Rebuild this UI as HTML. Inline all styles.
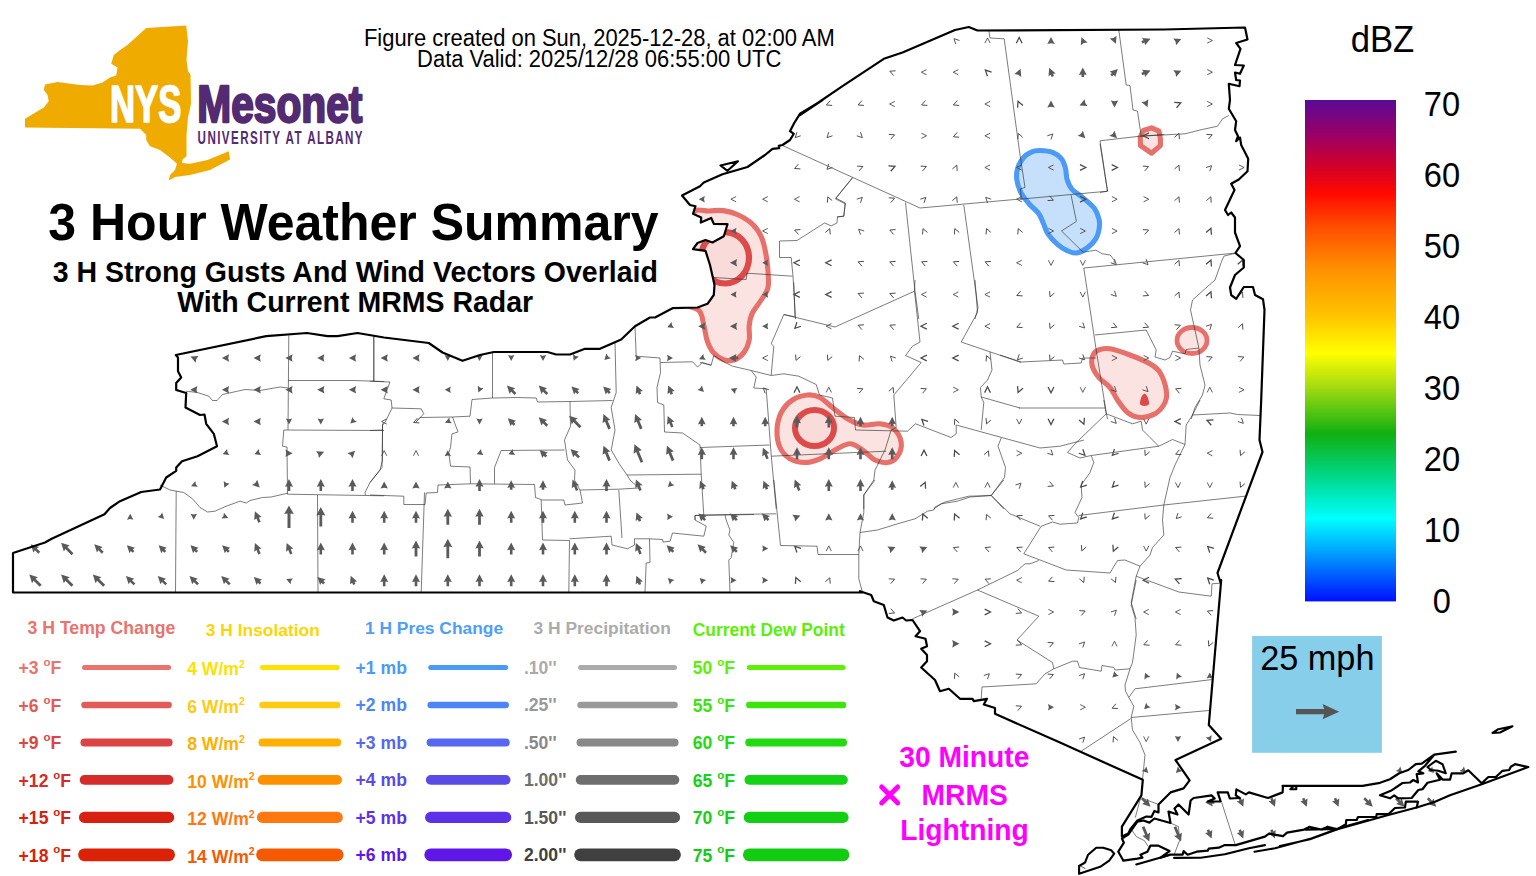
<!DOCTYPE html><html><head><meta charset="utf-8"><title>NYS Mesonet 3 Hour Weather Summary</title>
<style>html,body{margin:0;padding:0;background:#fff;overflow:hidden}svg{display:block}text{font-family:"Liberation Sans",sans-serif}</style></head><body>
<svg width="1536" height="876" viewBox="0 0 1536 876">
<rect width="1536" height="876" fill="#fff"/>
<defs>
<clipPath id="st"><path d="M175.8,355.0 L266.2,336.2 L307.0,333.0 L327.5,336.2 L337.5,336.2 L357.5,333.0 L384.0,337.5 L428.8,343.0 L442.5,352.5 L462.5,360.8 L480.0,355.0 L493.8,352.0 L547.5,352.0 L556.2,354.5 L570.0,354.5 L585.0,348.8 L600.0,348.8 L621.2,339.5 L635.0,326.2 L650.0,317.5 L655.0,317.5 L655.0,317.5 L672.5,308.2 L697.5,307.5 L707.5,303.8 L713.8,295.0 L714.5,285.0 L710.0,265.0 L705.5,250.8 L693.0,249.2 L697.5,243.0 L705.5,240.0 L712.5,242.5 L723.8,236.2 L727.5,224.2 L713.8,223.8 L711.2,218.0 L700.8,222.5 L701.2,217.5 L693.0,213.8 L695.5,206.2 L690.0,205.0 L682.0,195.5 L700.0,186.2 L703.8,182.5 L722.5,174.2 L747.5,167.0 L765.0,155.0 L772.5,148.8 L779.2,148.2 L778.8,145.8 L782.5,145.0 L790.0,140.0 L793.8,133.8 L790.0,131.2 L794.5,122.5 L800.0,113.8 L812.5,106.2 L822.5,100.0 L800.0,115.0 L842.5,86.2 L883.8,58.8 L902.5,52.5 L955.0,30.0 L968.8,27.0 L977.5,30.5 L1164.0,29.5 L1245.0,27.5 L1247.5,39.5 L1236.2,43.0 L1240.5,48.8 L1235.0,65.0 L1243.8,65.5 L1240.0,73.8 L1235.0,72.5 L1236.2,80.0 L1240.0,80.5 L1239.5,86.2 L1228.8,83.8 L1230.0,100.0 L1228.8,108.8 L1236.2,121.2 L1235.0,130.0 L1238.0,136.2 L1236.2,141.2 L1240.0,137.5 L1241.2,145.0 L1248.2,158.8 L1247.5,171.2 L1238.8,179.5 L1231.2,183.8 L1234.5,190.0 L1225.0,210.0 L1228.0,215.0 L1231.2,212.5 L1235.0,217.5 L1235.0,232.5 L1240.0,246.2 L1235.5,253.0 L1243.8,260.0 L1243.8,267.5 L1235.0,275.0 L1230.0,287.5 L1231.2,295.0 L1236.2,298.8 L1243.8,287.0 L1253.0,287.0 L1255.0,295.0 L1263.0,299.2 L1264.5,310.0 L1261.2,400.0 L1259.5,440.0 L1262.5,452.0 L1217.5,573.0 L1220.5,582.5 L1221.2,580.0 L1208.8,725.0 L1221.2,738.8 L1175.5,760.0 L1189.6,780.4 L1183.6,788.4 L1170.5,792.4 L1158.5,804.5 L1158.5,812.5 L1154.4,810.9 L1151.4,816.9 L1146.4,816.5 L1137.4,820.5 L1130.7,828.6 L1128.3,833.6 L1121.9,836.6 L1121.9,826.6 L1141.4,795.4 L1142.8,779.8 L1060.0,742.6 L995.0,713.8 L995.0,708.0 L983.8,704.5 L987.0,698.8 L973.8,701.2 L972.5,698.8 L960.0,698.8 L948.8,688.8 L940.0,691.2 L935.0,680.0 L921.2,667.5 L927.0,661.2 L927.0,655.0 L921.2,648.8 L927.0,646.2 L925.5,638.8 L915.5,636.2 L920.0,631.2 L912.5,620.0 L906.2,620.5 L902.5,617.5 L893.8,620.5 L887.5,617.5 L883.8,605.0 L873.8,601.2 L871.2,595.0 L860.0,591.2 L862.5,592.5 L13.0,592.5 L13.0,553.0 L45.0,542.5 L51.2,539.0 L104.5,514.2 L110.0,508.0 L120.0,501.2 L141.2,492.0 L160.0,489.5 L166.2,477.5 L176.2,470.8 L176.2,467.5 L182.0,461.2 L197.5,456.2 L217.0,446.2 L213.8,433.8 L206.2,423.8 L204.5,414.5 L200.0,415.0 L185.5,407.5 L186.2,393.0 L176.2,390.0 L176.2,383.0 L181.2,377.5 L178.0,371.2 L178.0,357.5 L175.8,355.0Z M1121.9,838.6 L1128.3,834.6 L1137.4,821.6 L1143.4,820.5 L1149.4,822.6 L1154.4,818.5 L1170.5,823.0 L1168.5,811.5 L1177.5,814.5 L1174.5,808.5 L1178.5,804.5 L1188.6,814.5 L1190.6,800.5 L1193.6,798.0 L1211.7,795.4 L1214.7,798.5 L1207.7,801.5 L1220.7,801.5 L1217.7,792.4 L1227.8,792.4 L1229.8,798.5 L1239.8,798.0 L1235.8,795.4 L1236.4,789.4 L1245.8,794.4 L1248.9,792.4 L1268.0,798.0 L1282.6,792.4 L1283.0,786.0 L1282.5,785.8 L1362.5,785.8 L1380.0,782.8 L1390.0,779.2 L1399.2,773.3 L1408.3,770.0 L1415.8,764.2 L1421.7,763.7 L1434.2,754.7 L1455.8,751.7 L1434.2,754.7 L1425.0,765.8 L1418.3,771.3 L1423.3,773.3 L1416.7,774.2 L1418.0,782.5 L1413.3,780.0 L1410.0,782.5 L1402.5,783.0 L1390.8,790.8 L1380.0,795.3 L1390.0,798.3 L1394.2,795.3 L1398.3,798.3 L1411.7,798.0 L1418.3,790.0 L1422.5,789.2 L1427.5,782.8 L1440.0,779.7 L1436.7,773.3 L1440.8,777.5 L1442.5,779.7 L1450.0,779.7 L1451.7,773.3 L1463.3,773.3 L1468.3,770.3 L1481.7,783.3 L1488.3,777.0 L1495.8,777.0 L1502.5,770.8 L1509.2,770.0 L1510.8,766.7 L1515.0,764.2 L1528.3,767.0 L1481.7,784.2 L1450.0,795.3 L1435.0,801.7 L1416.7,807.5 L1418.0,801.7 L1405.8,801.7 L1405.0,807.5 L1395.0,808.0 L1388.3,814.2 L1376.7,814.2 L1376.3,817.0 L1358.0,817.0 L1356.7,820.0 L1346.3,820.0 L1345.8,824.2 L1337.5,829.2 L1327.5,826.7 L1322.5,829.7 L1309.2,826.7 L1305.8,829.7 L1337.3,829.0 L1327.2,827.0 L1321.2,829.6 L1309.2,827.0 L1304.1,829.6 L1287.0,832.6 L1283.0,836.2 L1269.0,833.6 L1264.9,836.6 L1235.8,845.1 L1224.8,845.1 L1218.7,847.7 L1208.7,848.7 L1207.7,850.7 L1196.6,851.7 L1187.6,854.7 L1183.6,851.1 L1182.6,854.7 L1169.5,854.7 L1160.5,857.7 L1169.5,851.1 L1158.5,845.7 L1150.4,845.7 L1147.4,851.7 L1140.4,854.7 L1142.4,857.7 L1137.4,858.7 L1123.3,860.7 L1122.3,858.7 L1118.3,851.7 L1123.9,842.7 L1121.9,838.6Z"/></clipPath>
<linearGradient id="cb" x1="0" y1="0" x2="0" y2="1"><stop offset="0" stop-color="#5a0a96"/><stop offset="0.07" stop-color="#9a0066"/><stop offset="0.13" stop-color="#d0002c"/><stop offset="0.185" stop-color="#ff0800"/><stop offset="0.25" stop-color="#ff4a00"/><stop offset="0.33" stop-color="#ff8c00"/><stop offset="0.43" stop-color="#ffc400"/><stop offset="0.505" stop-color="#ffff00"/><stop offset="0.57" stop-color="#a8dc10"/><stop offset="0.665" stop-color="#10b010"/><stop offset="0.75" stop-color="#00d888"/><stop offset="0.835" stop-color="#00ffff"/><stop offset="0.9" stop-color="#00a4ff"/><stop offset="1" stop-color="#0010ff"/></linearGradient>
</defs>
<g clip-path="url(#st)" fill-rule="nonzero">
<path d="M690.0,214.7 C696.5,206.5 703.5,211.7 709.1,211.0 C714.7,210.3 718.7,210.0 723.5,210.6 C728.3,211.2 733.0,212.5 737.8,214.7 C742.6,216.9 748.2,220.1 752.2,223.9 C756.2,227.7 759.2,232.0 761.5,237.3 C763.8,242.6 765.1,249.3 766.2,255.8 C767.3,262.3 768.0,270.8 768.3,276.3 C768.5,281.8 769.0,284.6 767.7,288.7 C766.4,292.8 763.1,296.9 760.5,301.0 C757.9,305.1 754.1,309.3 752.2,313.4 C750.3,317.5 749.7,321.2 749.2,325.7 C748.7,330.1 750.1,335.7 749.2,340.1 C748.3,344.6 746.6,349.0 744.0,352.4 C741.4,355.8 737.1,359.0 733.7,360.2 C730.3,361.4 726.9,360.9 723.5,359.6 C720.1,358.3 716.0,355.6 713.2,352.4 C710.5,349.1 708.5,344.6 707.0,340.1 C705.5,335.7 705.3,330.7 703.9,325.7 C702.5,320.7 702.8,314.6 698.8,310.3 C694.8,306.0 684.8,308.4 680.0,300.0 C675.2,291.6 668.3,274.2 670.0,260.0 C671.7,245.8 683.5,222.9 690.0,214.7Z" fill="#fbe3e1" stroke="#e8706a" stroke-width="5.1"/>
<ellipse cx="725" cy="257.8" rx="24" ry="25.7" fill="#f9dbd9" stroke="#dd4a4a" stroke-width="6.2"/>
<path d="M807.5,395.0 C812.1,394.6 815.8,395.4 820.0,397.5 C824.2,399.6 827.9,404.0 832.5,407.5 C837.1,411.0 842.5,415.8 847.5,418.8 C852.5,421.7 857.1,424.2 862.5,425.0 C867.9,425.8 874.8,423.1 880.0,423.8 C885.2,424.4 890.2,425.6 893.8,428.8 C897.3,431.9 900.6,437.9 901.2,442.5 C901.9,447.1 899.8,452.9 897.5,456.2 C895.2,459.6 891.2,461.9 887.5,462.5 C883.8,463.1 879.2,462.1 875.0,460.0 C870.8,457.9 866.7,452.7 862.5,450.0 C858.3,447.3 854.6,443.8 850.0,443.8 C845.4,443.8 840.0,447.5 835.0,450.0 C830.0,452.5 825.0,456.7 820.0,458.8 C815.0,460.8 810.0,462.5 805.0,462.5 C800.0,462.5 794.2,461.2 790.0,458.8 C785.8,456.2 782.2,452.3 780.0,447.5 C777.8,442.7 776.8,435.8 777.0,430.0 C777.2,424.2 778.7,417.5 781.2,412.5 C783.8,407.5 788.1,402.9 792.5,400.0 C796.9,397.1 802.9,395.4 807.5,395.0Z" fill="#fbe3e1" stroke="#e8706a" stroke-width="5.1"/>
<ellipse cx="814.5" cy="428" rx="19.5" ry="18" fill="#f9dbd9" stroke="#dd4a4a" stroke-width="6.0"/>
<path d="M1110.0,348.8 C1115.0,349.7 1123.3,352.5 1130.0,355.0 C1136.7,357.5 1145.0,360.8 1150.0,363.8 C1155.0,366.7 1157.3,368.1 1160.0,372.5 C1162.7,376.9 1165.4,385.0 1166.2,390.0 C1167.1,395.0 1166.9,398.5 1165.0,402.5 C1163.1,406.5 1159.2,411.2 1155.0,413.8 C1150.8,416.2 1144.6,417.7 1140.0,417.5 C1135.4,417.3 1131.2,415.4 1127.5,412.5 C1123.8,409.6 1120.4,404.2 1117.5,400.0 C1114.6,395.8 1113.1,391.2 1110.0,387.5 C1106.9,383.8 1101.8,381.2 1098.8,377.5 C1095.8,373.8 1092.8,369.0 1092.0,365.0 C1091.2,361.0 1092.4,356.3 1093.8,353.8 C1095.1,351.2 1097.3,350.3 1100.0,349.5 C1102.7,348.7 1105.0,347.8 1110.0,348.8Z" fill="#fbe3e1" stroke="#e8706a" stroke-width="5.1"/>
<path d="M1144.5,393.5 C1147,394 1149.5,401 1149,404 C1148,406.5 1141,406.5 1140,404 C1139.5,401 1142,394 1144.5,393.5Z" fill="#dd4a4a"/>
<ellipse cx="1192" cy="340.5" rx="15" ry="13" fill="#fbe3e1" stroke="#e8706a" stroke-width="4.8"/>
<path d="M1151.5,127.9 L1159,131.2 L1160.4,138.8 L1160.4,145.6 L1151.5,153.2 L1140.5,145.6 L1140.2,137.4 L1143.3,130.5Z" fill="#fbe3e1" stroke="#e8706a" stroke-width="5.1" stroke-linejoin="round"/>
<path d="M1039.9,150.5 C1043.5,150.6 1049.1,151.0 1052.7,152.4 C1056.3,153.8 1059.4,156.1 1061.5,158.8 C1063.6,161.5 1064.6,165.0 1065.5,168.4 C1066.4,171.8 1066.0,176.1 1067.1,179.5 C1068.2,182.9 1069.2,186.0 1071.9,189.1 C1074.6,192.2 1079.4,194.7 1083.1,197.9 C1086.8,201.1 1091.6,204.7 1094.3,208.3 C1097.0,211.9 1098.3,216.0 1099.1,219.5 C1099.9,223.0 1099.6,225.9 1099.1,229.1 C1098.6,232.3 1097.8,235.6 1095.9,238.7 C1094.0,241.8 1091.1,245.0 1087.9,247.4 C1084.7,249.8 1080.2,252.5 1076.7,253.0 C1073.2,253.5 1070.3,252.0 1067.1,250.6 C1063.9,249.2 1060.7,247.1 1057.5,244.3 C1054.3,241.5 1050.3,237.5 1047.9,233.9 C1045.5,230.3 1044.7,226.2 1043.1,222.7 C1041.5,219.2 1040.8,216.3 1038.4,213.1 C1036.0,209.9 1031.7,207.0 1028.8,203.5 C1025.9,200.0 1022.8,196.3 1020.8,192.3 C1018.8,188.3 1017.3,183.5 1016.8,179.5 C1016.3,175.5 1016.5,172.0 1017.6,168.4 C1018.7,164.8 1020.9,160.7 1023.2,158.0 C1025.5,155.3 1028.4,153.3 1031.2,152.1 C1034.0,150.8 1036.3,150.4 1039.9,150.5Z" fill="#c6dffb" stroke="#4b9bf6" stroke-width="5.1"/>
</g>
<g fill="none" stroke="#2a2a2a" stroke-width="0.62" stroke-linejoin="round">
<path d="M782.5,145.5 L920.0,208.0 L1022.5,198.8 M852.5,178.0 L835.8,198.2 L845.5,203.0 L843.8,216.2 L837.5,216.8 L837.0,223.0 L831.2,225.8 L824.5,223.0 L797.0,240.5 L779.5,241.0 L779.5,257.5 L791.2,257.5 L793.0,276.2 L795.5,319.0 M713.8,277.5 L746.2,279.5 L747.0,273.2 L792.5,276.2 M905.5,202.5 L915.0,291.2 L918.8,319.0 M963.8,205.0 L978.0,307.5 L975.0,319.0 M783.8,314.5 L795.5,317.0 M1020.0,199.2 L1107.5,191.2 L1100.0,140.8 L1140.0,136.2 L1164.0,134.5 M988.8,30.5 L990.0,38.0 L1004.2,38.8 L1020.0,155.0 L1025.0,187.5 L1020.5,188.8 L1021.2,199.2 M1118.8,30.0 L1126.2,85.0 L1130.0,85.5 L1133.0,110.0 L1137.5,111.2 L1141.2,136.2 M852.5,177.5 L835.5,198.8 L845.0,203.8 L843.8,216.2 L837.0,217.0 M1140.5,136.2 L1185.0,133.8 L1200.0,130.0 L1217.5,126.2 L1222.5,118.8 L1228.8,115.5 M1100.0,143.8 L1107.5,191.2 L1100.0,192.5 M1071.1,195.2 L1076.4,221.4 L1061.5,231.0 L1083.1,252.2 L1095.9,250.2 L1102.3,253.8 L1110.3,255.0 L1114.2,260.2 L1114.2,263.4 M1083.8,268.0 L1236.2,253.0 M1083.8,268.0 L1096.2,350.0 L1106.2,412.5 L1107.5,419.0 M1095.0,335.0 L1146.2,330.0 L1156.2,350.0 L1155.0,357.0 L1165.0,360.0 L1170.0,357.5 L1172.5,351.2 L1185.0,353.8 L1186.2,349.5 L1198.8,348.0 M1236.2,253.0 L1223.8,256.2 L1221.2,262.5 L1215.0,280.0 L1205.0,288.8 L1192.5,300.0 L1190.5,310.0 L1198.8,347.5 L1200.0,365.0 L1205.0,385.0 L1202.5,395.0 L1195.0,407.5 L1191.2,419.0 M1000.0,355.0 L1021.2,362.0 L1062.5,360.0 L1063.8,364.0 L1081.2,363.0 L1082.5,358.0 L1096.2,358.0 M1018.8,408.0 L1105.0,408.0 M1103.8,400.0 L1106.2,413.8 L1132.5,423.8 L1141.2,421.2 L1142.5,430.0 L1150.0,437.5 L1158.8,446.2 L1172.5,439.5 L1185.0,444.5 L1186.2,425.0 L1192.5,415.0 L1200.0,400.0 M1192.5,415.0 L1230.0,413.0 L1237.5,414.5 L1260.0,415.5 M1106.2,413.8 L1075.0,443.8 L1067.5,452.5 L1080.0,458.0 L1091.2,455.5 L1158.8,446.2 M1091.2,455.5 L1093.8,462.5 L1090.0,472.5 L1081.2,485.0 L1082.0,497.5 L1075.0,512.5 L1078.8,517.5 L1077.5,523.0 L1060.0,524.2 L1052.5,522.0 L1041.2,526.2 M1185.0,444.5 L1175.0,465.0 L1170.0,477.5 L1163.8,505.0 L1162.5,520.0 L1163.8,535.0 L1152.5,547.5 L1150.0,555.0 L1140.0,566.2 L1136.2,576.2 L1131.2,602.5 L1136.2,619.0 M1078.8,515.5 L1163.8,505.0 L1245.0,496.2 M1041.2,526.2 L1023.8,553.8 L1066.2,570.0 L1110.0,573.0 L1117.5,560.5 L1125.0,560.0 L1140.0,566.2 M1136.2,576.2 L1178.8,592.0 L1211.2,596.2 L1212.0,583.8 L1220.5,583.2 M981.2,698.8 L982.0,687.0 L1036.2,683.8 L1045.0,673.8 L1053.8,668.8 L1072.5,661.2 L1077.5,661.2 L1079.5,667.5 L1101.2,671.2 L1102.0,665.5 L1113.8,667.5 L1115.0,670.0 L1130.0,668.8 M1136.2,580.0 L1131.2,605.0 L1135.0,617.5 L1136.2,635.0 L1132.5,662.5 L1130.0,668.8 L1125.0,685.0 L1125.5,691.2 L1128.8,697.5 L1133.8,706.2 L1131.2,717.5 L1132.5,730.0 L1140.0,742.5 L1145.0,755.0 L1142.5,779.5 M1128.8,697.5 L1135.0,688.8 L1212.5,679.5 M1131.2,717.5 L1208.8,710.5 M1130.5,718.8 L1081.2,751.2 M1140.4,797.5 L1158.5,804.5 M1140.4,798.5 L1135.3,817.5 M1132.3,830.6 L1136.3,836.6 L1144.4,840.6 L1148.4,846.7 M1170.5,823.0 L1178.5,826.6 L1179.5,840.6 L1174.5,853.7 M1221.7,802.5 L1235.2,844.7 M288.8,335.5 L288.0,430.0 M373.8,336.2 L373.8,381.2 M288.0,380.5 L353.8,380.5 L384.0,381.5 M186.2,391.2 L197.5,392.5 L208.8,396.2 L212.5,400.5 L217.0,400.5 L222.5,394.5 L237.5,391.2 L245.0,389.5 L260.0,390.5 L280.0,387.0 L288.0,388.0 M384.0,430.5 L283.8,430.0 L282.5,446.2 L287.0,447.0 L287.5,494.2 L384.0,495.8 M160.0,485.0 L170.0,490.0 L183.8,492.5 L192.5,498.8 L200.0,507.5 L207.5,512.0 L215.0,511.2 L226.2,506.2 L240.0,501.2 L246.2,503.0 L250.0,500.5 L262.5,497.5 L271.2,497.0 L287.5,493.2 M176.2,491.2 L175.5,592.5 M317.5,495.0 L318.0,592.5 M384.0,423.8 L382.5,425.0 L382.5,460.0 L380.0,470.0 L370.0,482.5 L365.0,492.5 L365.5,495.0 M373.8,336.2 L373.8,381.2 M370.0,381.2 L390.0,382.0 L383.8,398.8 L391.2,400.0 L392.0,408.0 L385.0,422.5 L382.5,423.8 L382.5,430.0 L370.0,430.5 M382.5,430.0 L382.0,467.5 L370.0,482.5 M392.0,408.0 L421.2,408.8 L423.8,413.8 L416.2,421.8 L420.0,417.5 L452.5,417.0 L470.0,416.2 L472.0,399.5 L492.5,398.0 M492.5,352.0 L492.5,398.0 L517.5,397.5 L536.2,398.0 L537.5,402.0 L570.0,401.5 L612.5,400.5 M452.5,417.0 L458.0,432.0 L452.0,433.8 L450.5,447.5 L448.8,452.5 L450.5,466.2 L470.0,467.0 L470.5,483.8 M570.0,401.5 L570.5,426.2 L564.5,440.0 L567.5,460.0 L575.0,470.0 L574.5,480.0 L580.0,490.0 L582.5,503.0 L565.0,505.0 L563.8,500.0 L542.5,500.0 L535.5,497.5 L534.5,484.5 L470.5,483.8 L438.0,485.0 L437.5,492.5 L426.2,493.0 L425.0,504.5 L403.8,504.5 L403.8,496.2 L370.0,495.0 M494.5,483.8 L494.5,467.5 L501.2,450.5 L564.5,450.0 M580.0,490.0 L618.8,489.2 L638.8,488.0 M615.0,342.5 L616.2,392.5 L611.2,407.5 L615.0,430.0 L611.2,450.0 L620.0,465.0 L627.0,475.0 L630.0,480.0 L638.8,488.0 M627.0,475.0 L701.2,474.2 M635.0,326.2 L636.2,356.2 L660.0,358.0 L660.5,372.5 L657.0,387.5 L657.5,402.5 L663.8,405.0 L664.5,432.0 L682.5,433.0 L700.0,445.0 L701.2,474.2 L703.8,515.0 L695.0,515.5 L695.0,520.0 M660.5,362.5 L692.5,361.8 L697.5,367.0 L702.5,362.5 L711.2,365.5 M424.5,492.5 L421.2,592.0 M541.2,500.0 L542.5,540.0 L569.5,540.5 L568.8,592.0 M569.5,538.8 L611.2,536.2 L612.0,545.0 L627.5,548.8 L634.5,545.0 L634.5,538.8 L649.5,538.8 L650.0,562.5 L646.2,563.0 L645.0,592.0 M618.8,490.0 L622.0,538.0 M649.5,538.8 L662.5,539.5 L663.0,542.0 L670.0,541.2 L672.5,533.0 L703.8,536.2 L706.2,526.2 L695.0,520.0 L695.0,515.5 L754.0,514.5 M793.8,282.5 L795.0,316.2 M783.8,314.5 L835.0,327.0 L914.5,291.2 L915.0,280.0 M914.5,291.2 L920.0,342.0 L912.5,346.2 L905.5,355.5 L921.2,362.5 L893.8,395.0 L896.2,427.5 L891.2,430.0 L885.0,450.0 L875.0,470.0 L873.8,480.0 L863.8,495.0 L863.8,509.0 M783.8,314.5 L771.2,343.8 L773.8,346.2 L771.2,375.0 M700.0,362.5 L711.2,365.0 L713.8,355.5 L725.0,362.5 L732.5,366.2 L751.2,370.5 L756.2,377.0 L753.8,388.0 L766.2,388.8 L771.2,455.0 L776.2,509.0 M751.2,370.5 L771.2,375.5 L783.8,373.8 L798.8,376.2 L816.2,384.5 L819.5,395.0 L832.5,398.0 L835.0,416.2 L854.5,417.5 L855.5,430.0 L907.5,431.2 L915.5,423.8 L951.2,437.5 L956.2,433.8 L956.2,425.0 L1040.0,448.0 L1060.0,446.2 L1084.0,440.0 M771.2,456.2 L886.2,451.2 M700.0,447.5 L769.5,445.0 M975.0,280.0 L977.5,312.5 L961.2,342.0 L1021.2,362.5 M990.0,352.0 L992.0,370.0 L987.5,380.0 L980.5,387.5 L981.2,397.0 L983.8,402.5 L981.2,430.0 M981.2,397.0 L1020.0,408.0 M1001.2,438.0 L998.0,446.2 L1005.5,467.5 L1004.5,477.5 L991.2,495.5 L970.0,497.0 L957.5,501.2 L941.2,503.8 L933.8,509.0 M991.2,495.5 L1003.8,509.0 M773.8,480.0 L780.5,545.5 L817.0,546.2 L818.0,554.5 L858.8,554.5 M700.0,515.0 L776.2,513.8 M725.0,515.0 L726.2,520.0 L730.0,530.0 L728.8,535.0 L733.8,542.5 L731.2,557.5 L728.8,560.0 L730.0,592.5 M875.0,480.0 L863.8,495.0 L863.8,512.5 L860.0,532.5 L858.8,554.5 L858.8,578.8 L862.5,592.5 M860.0,532.5 L877.5,530.0 L897.5,523.8 L915.0,518.8 L927.5,511.2 L933.8,510.0 L935.0,507.0 L945.0,502.0 L968.8,496.2 L991.2,495.5 L1003.8,480.0 M991.2,495.5 L1010.0,513.8 L1040.0,526.2 M1038.8,560.5 L1030.0,563.8 L1025.0,563.8 L1017.5,570.5 L977.5,590.0 L912.5,618.8 M977.5,590.0 L1038.8,616.2 L1017.0,640.0 L1052.5,662.5 L1053.8,668.8"/>
</g>
<g fill="#5a5a5a" stroke="none"><path transform="translate(1051.0,40.5) rotate(-90.0)" d="M3.6,0.0 L-3.6,-3.7 L-2.7,0.0 L-3.6,3.7Z"/><path transform="translate(1082.8,40.5) rotate(-112.5)" d="M3.6,0.0 L-3.6,-3.7 L-2.7,0.0 L-3.6,3.7Z"/><path transform="translate(1114.5,40.5) rotate(-292.5)" d="M3.6,0.0 L-3.6,-3.7 L-2.7,0.0 L-3.6,3.7Z"/><path transform="translate(1146.2,40.5) rotate(-22.5)" d="M-4.7,-1.3 L-2.3,-1.3 L-2.9,-3.9 L4.7,0.0 L-2.9,3.9 L-2.3,1.3 L-4.7,1.3Z"/><path transform="translate(1178.0,40.5) rotate(-22.5)" d="M3.6,0.0 L-3.6,-3.7 L-2.7,0.0 L-3.6,3.7Z"/><path transform="translate(1019.2,72.2) rotate(-67.5)" d="M3.6,0.0 L-3.6,-3.7 L-2.7,0.0 L-3.6,3.7Z"/><path transform="translate(1051.0,72.2) rotate(-112.5)" d="M-4.7,-1.3 L-2.3,-1.3 L-2.9,-3.9 L4.7,0.0 L-2.9,3.9 L-2.3,1.3 L-4.7,1.3Z"/><path transform="translate(1082.8,72.2) rotate(-90.0)" d="M-4.7,-1.3 L-2.3,-1.3 L-2.9,-3.9 L4.7,0.0 L-2.9,3.9 L-2.3,1.3 L-4.7,1.3Z"/><path transform="translate(1114.5,72.2) rotate(-45.0)" d="M-4.7,-1.3 L-2.3,-1.3 L-2.9,-3.9 L4.7,0.0 L-2.9,3.9 L-2.3,1.3 L-4.7,1.3Z"/><path transform="translate(1146.2,72.2) rotate(-22.5)" d="M-4.7,-1.3 L-2.3,-1.3 L-2.9,-3.9 L4.7,0.0 L-2.9,3.9 L-2.3,1.3 L-4.7,1.3Z"/><path transform="translate(1178.0,72.2) rotate(-22.5)" d="M3.6,0.0 L-3.6,-3.7 L-2.7,0.0 L-3.6,3.7Z"/><path transform="translate(1051.0,104.0) rotate(-90.0)" d="M3.6,0.0 L-3.6,-3.7 L-2.7,0.0 L-3.6,3.7Z"/><path transform="translate(1082.8,104.0) rotate(-202.5)" d="M3.6,0.0 L-3.6,-3.7 L-2.7,0.0 L-3.6,3.7Z"/><path transform="translate(1114.5,104.0) rotate(-270.0)" d="M3.6,0.0 L-3.6,-3.7 L-2.7,0.0 L-3.6,3.7Z"/><path transform="translate(1146.2,104.0) rotate(-292.5)" d="M3.6,0.0 L-3.6,-3.7 L-2.7,0.0 L-3.6,3.7Z"/><path transform="translate(1082.8,135.8) rotate(-315.0)" d="M3.6,0.0 L-3.6,-3.7 L-2.7,0.0 L-3.6,3.7Z"/><path transform="translate(1114.5,135.8) rotate(-315.0)" d="M3.6,0.0 L-3.6,-3.7 L-2.7,0.0 L-3.6,3.7Z"/><path transform="translate(701.8,199.2) rotate(-180.0)" d="M3.0,0.0 L-3.0,-3.2 L-2.2,0.0 L-3.0,3.2Z"/><path transform="translate(733.5,231.0) rotate(-180.0)" d="M3.0,0.0 L-3.0,-3.2 L-2.2,0.0 L-3.0,3.2Z"/><path transform="translate(733.5,262.8) rotate(-180.0)" d="M3.6,0.0 L-3.6,-3.7 L-2.7,0.0 L-3.6,3.7Z"/><path transform="translate(765.2,262.8) rotate(-180.0)" d="M3.0,0.0 L-3.0,-3.2 L-2.2,0.0 L-3.0,3.2Z"/><path transform="translate(733.5,294.5) rotate(-180.0)" d="M3.0,0.0 L-3.0,-3.2 L-2.2,0.0 L-3.0,3.2Z"/><path transform="translate(765.2,294.5) rotate(-180.0)" d="M3.0,0.0 L-3.0,-3.2 L-2.2,0.0 L-3.0,3.2Z"/><path transform="translate(670.0,326.2) rotate(-202.5)" d="M3.0,0.0 L-3.0,-3.2 L-2.2,0.0 L-3.0,3.2Z"/><path transform="translate(701.8,326.2) rotate(-180.0)" d="M3.6,0.0 L-3.6,-3.7 L-2.7,0.0 L-3.6,3.7Z"/><path transform="translate(733.5,326.2) rotate(-180.0)" d="M3.6,0.0 L-3.6,-3.7 L-2.7,0.0 L-3.6,3.7Z"/><path transform="translate(765.2,326.2) rotate(-180.0)" d="M3.0,0.0 L-3.0,-3.2 L-2.2,0.0 L-3.0,3.2Z"/><path transform="translate(193.8,358.0) rotate(-157.5)" d="M3.6,0.0 L-3.6,-3.7 L-2.7,0.0 L-3.6,3.7Z"/><path transform="translate(225.5,358.0) rotate(-180.0)" d="M3.6,0.0 L-3.6,-3.7 L-2.7,0.0 L-3.6,3.7Z"/><path transform="translate(257.2,358.0) rotate(-180.0)" d="M3.6,0.0 L-3.6,-3.7 L-2.7,0.0 L-3.6,3.7Z"/><path transform="translate(289.0,358.0) rotate(-180.0)" d="M3.6,0.0 L-3.6,-3.7 L-2.7,0.0 L-3.6,3.7Z"/><path transform="translate(320.8,358.0) rotate(-180.0)" d="M3.6,0.0 L-3.6,-3.7 L-2.7,0.0 L-3.6,3.7Z"/><path transform="translate(352.5,358.0) rotate(-180.0)" d="M3.6,0.0 L-3.6,-3.7 L-2.7,0.0 L-3.6,3.7Z"/><path transform="translate(384.2,358.0) rotate(-180.0)" d="M3.6,0.0 L-3.6,-3.7 L-2.7,0.0 L-3.6,3.7Z"/><path transform="translate(416.0,358.0) rotate(-180.0)" d="M3.6,0.0 L-3.6,-3.7 L-2.7,0.0 L-3.6,3.7Z"/><path transform="translate(447.8,358.0) rotate(-270.0)" d="M3.0,0.0 L-3.0,-3.2 L-2.2,0.0 L-3.0,3.2Z"/><path transform="translate(479.5,358.0) rotate(-270.0)" d="M3.0,0.0 L-3.0,-3.2 L-2.2,0.0 L-3.0,3.2Z"/><path transform="translate(511.2,358.0) rotate(-270.0)" d="M3.0,0.0 L-3.0,-3.2 L-2.2,0.0 L-3.0,3.2Z"/><path transform="translate(543.0,358.0) rotate(-270.0)" d="M3.0,0.0 L-3.0,-3.2 L-2.2,0.0 L-3.0,3.2Z"/><path transform="translate(574.8,358.0) rotate(-247.5)" d="M3.0,0.0 L-3.0,-3.2 L-2.2,0.0 L-3.0,3.2Z"/><path transform="translate(606.5,358.0) rotate(-225.0)" d="M3.0,0.0 L-3.0,-3.2 L-2.2,0.0 L-3.0,3.2Z"/><path transform="translate(638.2,358.0) rotate(0.0)" d="M3.0,0.0 L-3.0,-3.2 L-2.2,0.0 L-3.0,3.2Z"/><path transform="translate(670.0,358.0) rotate(0.0)" d="M3.0,0.0 L-3.0,-3.2 L-2.2,0.0 L-3.0,3.2Z"/><path transform="translate(701.8,358.0) rotate(-202.5)" d="M3.0,0.0 L-3.0,-3.2 L-2.2,0.0 L-3.0,3.2Z"/><path transform="translate(733.5,358.0) rotate(-180.0)" d="M-4.7,-1.3 L-2.3,-1.3 L-2.9,-3.9 L4.7,0.0 L-2.9,3.9 L-2.3,1.3 L-4.7,1.3Z"/><path transform="translate(193.8,389.8) rotate(-180.0)" d="M3.6,0.0 L-3.6,-3.7 L-2.7,0.0 L-3.6,3.7Z"/><path transform="translate(225.5,389.8) rotate(-180.0)" d="M3.6,0.0 L-3.6,-3.7 L-2.7,0.0 L-3.6,3.7Z"/><path transform="translate(257.2,389.8) rotate(-180.0)" d="M3.6,0.0 L-3.6,-3.7 L-2.7,0.0 L-3.6,3.7Z"/><path transform="translate(289.0,389.8) rotate(-180.0)" d="M3.6,0.0 L-3.6,-3.7 L-2.7,0.0 L-3.6,3.7Z"/><path transform="translate(320.8,389.8) rotate(-180.0)" d="M3.6,0.0 L-3.6,-3.7 L-2.7,0.0 L-3.6,3.7Z"/><path transform="translate(352.5,389.8) rotate(-180.0)" d="M3.6,0.0 L-3.6,-3.7 L-2.7,0.0 L-3.6,3.7Z"/><path transform="translate(384.2,389.8) rotate(-180.0)" d="M3.6,0.0 L-3.6,-3.7 L-2.7,0.0 L-3.6,3.7Z"/><path transform="translate(416.0,389.8) rotate(-180.0)" d="M3.6,0.0 L-3.6,-3.7 L-2.7,0.0 L-3.6,3.7Z"/><path transform="translate(447.8,389.8) rotate(-180.0)" d="M3.0,0.0 L-3.0,-3.2 L-2.2,0.0 L-3.0,3.2Z"/><path transform="translate(479.5,389.8) rotate(-247.5)" d="M3.0,0.0 L-3.0,-3.2 L-2.2,0.0 L-3.0,3.2Z"/><path transform="translate(511.2,389.8) rotate(-135.0)" d="M-6.0,-1.3 L-1.2,-1.3 L-1.8,-4.0 L6.0,0.0 L-1.8,4.0 L-1.2,1.3 L-6.0,1.3Z"/><path transform="translate(543.0,389.8) rotate(-135.0)" d="M-6.0,-1.3 L-1.2,-1.3 L-1.8,-4.0 L6.0,0.0 L-1.8,4.0 L-1.2,1.3 L-6.0,1.3Z"/><path transform="translate(574.8,389.8) rotate(-135.0)" d="M-4.7,-1.3 L-2.3,-1.3 L-2.9,-3.9 L4.7,0.0 L-2.9,3.9 L-2.3,1.3 L-4.7,1.3Z"/><path transform="translate(606.5,389.8) rotate(-135.0)" d="M-4.7,-1.3 L-2.3,-1.3 L-2.9,-3.9 L4.7,0.0 L-2.9,3.9 L-2.3,1.3 L-4.7,1.3Z"/><path transform="translate(638.2,389.8) rotate(-112.5)" d="M-4.7,-1.3 L-2.3,-1.3 L-2.9,-3.9 L4.7,0.0 L-2.9,3.9 L-2.3,1.3 L-4.7,1.3Z"/><path transform="translate(670.0,389.8) rotate(-112.5)" d="M-4.7,-1.3 L-2.3,-1.3 L-2.9,-3.9 L4.7,0.0 L-2.9,3.9 L-2.3,1.3 L-4.7,1.3Z"/><path transform="translate(701.8,389.8) rotate(-315.0)" d="M3.0,0.0 L-3.0,-3.2 L-2.2,0.0 L-3.0,3.2Z"/><path transform="translate(733.5,389.8) rotate(-157.5)" d="M3.0,0.0 L-3.0,-3.2 L-2.2,0.0 L-3.0,3.2Z"/><path transform="translate(225.5,421.5) rotate(-180.0)" d="M3.6,0.0 L-3.6,-3.7 L-2.7,0.0 L-3.6,3.7Z"/><path transform="translate(257.2,421.5) rotate(-180.0)" d="M3.6,0.0 L-3.6,-3.7 L-2.7,0.0 L-3.6,3.7Z"/><path transform="translate(289.0,421.5) rotate(-270.0)" d="M3.0,0.0 L-3.0,-3.2 L-2.2,0.0 L-3.0,3.2Z"/><path transform="translate(320.8,421.5) rotate(-270.0)" d="M3.0,0.0 L-3.0,-3.2 L-2.2,0.0 L-3.0,3.2Z"/><path transform="translate(352.5,421.5) rotate(-225.0)" d="M3.0,0.0 L-3.0,-3.2 L-2.2,0.0 L-3.0,3.2Z"/><path transform="translate(447.8,421.5) rotate(-202.5)" d="M3.0,0.0 L-3.0,-3.2 L-2.2,0.0 L-3.0,3.2Z"/><path transform="translate(479.5,421.5) rotate(-270.0)" d="M3.0,0.0 L-3.0,-3.2 L-2.2,0.0 L-3.0,3.2Z"/><path transform="translate(511.2,421.5) rotate(-135.0)" d="M-4.7,-1.3 L-2.3,-1.3 L-2.9,-3.9 L4.7,0.0 L-2.9,3.9 L-2.3,1.3 L-4.7,1.3Z"/><path transform="translate(543.0,421.5) rotate(-135.0)" d="M-6.0,-1.3 L-1.2,-1.3 L-1.8,-4.0 L6.0,0.0 L-1.8,4.0 L-1.2,1.3 L-6.0,1.3Z"/><path transform="translate(574.8,421.5) rotate(-135.0)" d="M-8.0,-1.4 L0.6,-1.4 L0.0,-4.2 L8.0,0.0 L0.0,4.2 L0.6,1.4 L-8.0,1.4Z"/><path transform="translate(606.5,421.5) rotate(-112.5)" d="M-8.0,-1.4 L0.6,-1.4 L0.0,-4.2 L8.0,0.0 L0.0,4.2 L0.6,1.4 L-8.0,1.4Z"/><path transform="translate(638.2,421.5) rotate(-112.5)" d="M-8.0,-1.4 L0.6,-1.4 L0.0,-4.2 L8.0,0.0 L0.0,4.2 L0.6,1.4 L-8.0,1.4Z"/><path transform="translate(670.0,421.5) rotate(-112.5)" d="M-6.0,-1.3 L-1.2,-1.3 L-1.8,-4.0 L6.0,0.0 L-1.8,4.0 L-1.2,1.3 L-6.0,1.3Z"/><path transform="translate(701.8,421.5) rotate(-90.0)" d="M-4.7,-1.3 L-2.3,-1.3 L-2.9,-3.9 L4.7,0.0 L-2.9,3.9 L-2.3,1.3 L-4.7,1.3Z"/><path transform="translate(733.5,421.5) rotate(-90.0)" d="M-4.7,-1.3 L-2.3,-1.3 L-2.9,-3.9 L4.7,0.0 L-2.9,3.9 L-2.3,1.3 L-4.7,1.3Z"/><path transform="translate(765.2,421.5) rotate(-90.0)" d="M-4.7,-1.3 L-2.3,-1.3 L-2.9,-3.9 L4.7,0.0 L-2.9,3.9 L-2.3,1.3 L-4.7,1.3Z"/><path transform="translate(797.0,421.5) rotate(-90.0)" d="M-6.0,-1.3 L-1.2,-1.3 L-1.8,-4.0 L6.0,0.0 L-1.8,4.0 L-1.2,1.3 L-6.0,1.3Z"/><path transform="translate(828.8,421.5) rotate(-90.0)" d="M-6.0,-1.3 L-1.2,-1.3 L-1.8,-4.0 L6.0,0.0 L-1.8,4.0 L-1.2,1.3 L-6.0,1.3Z"/><path transform="translate(860.5,421.5) rotate(-90.0)" d="M-4.7,-1.3 L-2.3,-1.3 L-2.9,-3.9 L4.7,0.0 L-2.9,3.9 L-2.3,1.3 L-4.7,1.3Z"/><path transform="translate(892.2,421.5) rotate(-90.0)" d="M-4.7,-1.3 L-2.3,-1.3 L-2.9,-3.9 L4.7,0.0 L-2.9,3.9 L-2.3,1.3 L-4.7,1.3Z"/><path transform="translate(225.5,453.2) rotate(-202.5)" d="M3.0,0.0 L-3.0,-3.2 L-2.2,0.0 L-3.0,3.2Z"/><path transform="translate(257.2,453.2) rotate(-202.5)" d="M3.0,0.0 L-3.0,-3.2 L-2.2,0.0 L-3.0,3.2Z"/><path transform="translate(289.0,453.2) rotate(0.0)" d="M3.6,0.0 L-3.6,-3.7 L-2.7,0.0 L-3.6,3.7Z"/><path transform="translate(320.8,453.2) rotate(-22.5)" d="M3.6,0.0 L-3.6,-3.7 L-2.7,0.0 L-3.6,3.7Z"/><path transform="translate(352.5,453.2) rotate(-45.0)" d="M3.6,0.0 L-3.6,-3.7 L-2.7,0.0 L-3.6,3.7Z"/><path transform="translate(447.8,453.2) rotate(-90.0)" d="M3.0,0.0 L-3.0,-3.2 L-2.2,0.0 L-3.0,3.2Z"/><path transform="translate(479.5,453.2) rotate(-202.5)" d="M3.0,0.0 L-3.0,-3.2 L-2.2,0.0 L-3.0,3.2Z"/><path transform="translate(511.2,453.2) rotate(-202.5)" d="M3.0,0.0 L-3.0,-3.2 L-2.2,0.0 L-3.0,3.2Z"/><path transform="translate(543.0,453.2) rotate(-135.0)" d="M-4.7,-1.3 L-2.3,-1.3 L-2.9,-3.9 L4.7,0.0 L-2.9,3.9 L-2.3,1.3 L-4.7,1.3Z"/><path transform="translate(574.8,453.2) rotate(-135.0)" d="M-6.0,-1.3 L-1.2,-1.3 L-1.8,-4.0 L6.0,0.0 L-1.8,4.0 L-1.2,1.3 L-6.0,1.3Z"/><path transform="translate(606.5,453.2) rotate(-112.5)" d="M-8.0,-1.4 L0.6,-1.4 L0.0,-4.2 L8.0,0.0 L0.0,4.2 L0.6,1.4 L-8.0,1.4Z"/><path transform="translate(638.2,453.2) rotate(-112.5)" d="M-9.8,-1.4 L1.9,-1.4 L1.2,-4.5 L9.8,0.0 L1.2,4.5 L1.9,1.4 L-9.8,1.4Z"/><path transform="translate(670.0,453.2) rotate(-112.5)" d="M-8.0,-1.4 L0.6,-1.4 L0.0,-4.2 L8.0,0.0 L0.0,4.2 L0.6,1.4 L-8.0,1.4Z"/><path transform="translate(701.8,453.2) rotate(-90.0)" d="M-6.0,-1.3 L-1.2,-1.3 L-1.8,-4.0 L6.0,0.0 L-1.8,4.0 L-1.2,1.3 L-6.0,1.3Z"/><path transform="translate(733.5,453.2) rotate(-90.0)" d="M-6.0,-1.3 L-1.2,-1.3 L-1.8,-4.0 L6.0,0.0 L-1.8,4.0 L-1.2,1.3 L-6.0,1.3Z"/><path transform="translate(765.2,453.2) rotate(-112.5)" d="M-6.0,-1.3 L-1.2,-1.3 L-1.8,-4.0 L6.0,0.0 L-1.8,4.0 L-1.2,1.3 L-6.0,1.3Z"/><path transform="translate(797.0,453.2) rotate(-90.0)" d="M-6.0,-1.3 L-1.2,-1.3 L-1.8,-4.0 L6.0,0.0 L-1.8,4.0 L-1.2,1.3 L-6.0,1.3Z"/><path transform="translate(828.8,453.2) rotate(-90.0)" d="M-6.0,-1.3 L-1.2,-1.3 L-1.8,-4.0 L6.0,0.0 L-1.8,4.0 L-1.2,1.3 L-6.0,1.3Z"/><path transform="translate(860.5,453.2) rotate(-90.0)" d="M-6.0,-1.3 L-1.2,-1.3 L-1.8,-4.0 L6.0,0.0 L-1.8,4.0 L-1.2,1.3 L-6.0,1.3Z"/><path transform="translate(892.2,453.2) rotate(-90.0)" d="M-6.0,-1.3 L-1.2,-1.3 L-1.8,-4.0 L6.0,0.0 L-1.8,4.0 L-1.2,1.3 L-6.0,1.3Z"/><path transform="translate(193.8,485.0) rotate(-202.5)" d="M3.0,0.0 L-3.0,-3.2 L-2.2,0.0 L-3.0,3.2Z"/><path transform="translate(225.5,485.0) rotate(-247.5)" d="M3.0,0.0 L-3.0,-3.2 L-2.2,0.0 L-3.0,3.2Z"/><path transform="translate(257.2,485.0) rotate(-315.0)" d="M3.6,0.0 L-3.6,-3.7 L-2.7,0.0 L-3.6,3.7Z"/><path transform="translate(289.0,485.0) rotate(-90.0)" d="M-6.0,-1.3 L-1.2,-1.3 L-1.8,-4.0 L6.0,0.0 L-1.8,4.0 L-1.2,1.3 L-6.0,1.3Z"/><path transform="translate(320.8,485.0) rotate(-90.0)" d="M-6.0,-1.3 L-1.2,-1.3 L-1.8,-4.0 L6.0,0.0 L-1.8,4.0 L-1.2,1.3 L-6.0,1.3Z"/><path transform="translate(352.5,485.0) rotate(-90.0)" d="M-6.0,-1.3 L-1.2,-1.3 L-1.8,-4.0 L6.0,0.0 L-1.8,4.0 L-1.2,1.3 L-6.0,1.3Z"/><path transform="translate(384.2,485.0) rotate(-90.0)" d="M3.6,0.0 L-3.6,-3.7 L-2.7,0.0 L-3.6,3.7Z"/><path transform="translate(416.0,485.0) rotate(-90.0)" d="M3.6,0.0 L-3.6,-3.7 L-2.7,0.0 L-3.6,3.7Z"/><path transform="translate(447.8,485.0) rotate(-90.0)" d="M3.6,0.0 L-3.6,-3.7 L-2.7,0.0 L-3.6,3.7Z"/><path transform="translate(479.5,485.0) rotate(-90.0)" d="M-6.0,-1.3 L-1.2,-1.3 L-1.8,-4.0 L6.0,0.0 L-1.8,4.0 L-1.2,1.3 L-6.0,1.3Z"/><path transform="translate(511.2,485.0) rotate(-90.0)" d="M-4.7,-1.3 L-2.3,-1.3 L-2.9,-3.9 L4.7,0.0 L-2.9,3.9 L-2.3,1.3 L-4.7,1.3Z"/><path transform="translate(543.0,485.0) rotate(-90.0)" d="M-4.7,-1.3 L-2.3,-1.3 L-2.9,-3.9 L4.7,0.0 L-2.9,3.9 L-2.3,1.3 L-4.7,1.3Z"/><path transform="translate(574.8,485.0) rotate(-112.5)" d="M-6.0,-1.3 L-1.2,-1.3 L-1.8,-4.0 L6.0,0.0 L-1.8,4.0 L-1.2,1.3 L-6.0,1.3Z"/><path transform="translate(606.5,485.0) rotate(-90.0)" d="M-6.0,-1.3 L-1.2,-1.3 L-1.8,-4.0 L6.0,0.0 L-1.8,4.0 L-1.2,1.3 L-6.0,1.3Z"/><path transform="translate(638.2,485.0) rotate(-112.5)" d="M-6.0,-1.3 L-1.2,-1.3 L-1.8,-4.0 L6.0,0.0 L-1.8,4.0 L-1.2,1.3 L-6.0,1.3Z"/><path transform="translate(670.0,485.0) rotate(-225.0)" d="M3.0,0.0 L-3.0,-3.2 L-2.2,0.0 L-3.0,3.2Z"/><path transform="translate(701.8,485.0) rotate(-112.5)" d="M-4.7,-1.3 L-2.3,-1.3 L-2.9,-3.9 L4.7,0.0 L-2.9,3.9 L-2.3,1.3 L-4.7,1.3Z"/><path transform="translate(733.5,485.0) rotate(-112.5)" d="M-4.7,-1.3 L-2.3,-1.3 L-2.9,-3.9 L4.7,0.0 L-2.9,3.9 L-2.3,1.3 L-4.7,1.3Z"/><path transform="translate(765.2,485.0) rotate(-112.5)" d="M-4.7,-1.3 L-2.3,-1.3 L-2.9,-3.9 L4.7,0.0 L-2.9,3.9 L-2.3,1.3 L-4.7,1.3Z"/><path transform="translate(797.0,485.0) rotate(-112.5)" d="M-6.0,-1.3 L-1.2,-1.3 L-1.8,-4.0 L6.0,0.0 L-1.8,4.0 L-1.2,1.3 L-6.0,1.3Z"/><path transform="translate(828.8,485.0) rotate(-90.0)" d="M-6.0,-1.3 L-1.2,-1.3 L-1.8,-4.0 L6.0,0.0 L-1.8,4.0 L-1.2,1.3 L-6.0,1.3Z"/><path transform="translate(860.5,485.0) rotate(-90.0)" d="M-6.0,-1.3 L-1.2,-1.3 L-1.8,-4.0 L6.0,0.0 L-1.8,4.0 L-1.2,1.3 L-6.0,1.3Z"/><path transform="translate(892.2,485.0) rotate(-90.0)" d="M-4.7,-1.3 L-2.3,-1.3 L-2.9,-3.9 L4.7,0.0 L-2.9,3.9 L-2.3,1.3 L-4.7,1.3Z"/><path transform="translate(130.2,516.8) rotate(-90.0)" d="M3.0,0.0 L-3.0,-3.2 L-2.2,0.0 L-3.0,3.2Z"/><path transform="translate(162.0,516.8) rotate(-315.0)" d="M3.0,0.0 L-3.0,-3.2 L-2.2,0.0 L-3.0,3.2Z"/><path transform="translate(193.8,516.8) rotate(-270.0)" d="M3.0,0.0 L-3.0,-3.2 L-2.2,0.0 L-3.0,3.2Z"/><path transform="translate(225.5,516.8) rotate(-337.5)" d="M3.0,0.0 L-3.0,-3.2 L-2.2,0.0 L-3.0,3.2Z"/><path transform="translate(257.2,516.8) rotate(-112.5)" d="M-6.0,-1.3 L-1.2,-1.3 L-1.8,-4.0 L6.0,0.0 L-1.8,4.0 L-1.2,1.3 L-6.0,1.3Z"/><path transform="translate(289.0,516.8) rotate(-90.0)" d="M-11.2,-1.5 L3.3,-1.5 L2.7,-4.8 L11.2,0.0 L2.7,4.8 L3.3,1.5 L-11.2,1.5Z"/><path transform="translate(320.8,516.8) rotate(-90.0)" d="M-9.8,-1.4 L1.9,-1.4 L1.2,-4.5 L9.8,0.0 L1.2,4.5 L1.9,1.4 L-9.8,1.4Z"/><path transform="translate(352.5,516.8) rotate(-90.0)" d="M-6.0,-1.3 L-1.2,-1.3 L-1.8,-4.0 L6.0,0.0 L-1.8,4.0 L-1.2,1.3 L-6.0,1.3Z"/><path transform="translate(384.2,516.8) rotate(-90.0)" d="M-6.0,-1.3 L-1.2,-1.3 L-1.8,-4.0 L6.0,0.0 L-1.8,4.0 L-1.2,1.3 L-6.0,1.3Z"/><path transform="translate(416.0,516.8) rotate(-90.0)" d="M-6.0,-1.3 L-1.2,-1.3 L-1.8,-4.0 L6.0,0.0 L-1.8,4.0 L-1.2,1.3 L-6.0,1.3Z"/><path transform="translate(447.8,516.8) rotate(-90.0)" d="M-8.0,-1.4 L0.6,-1.4 L0.0,-4.2 L8.0,0.0 L0.0,4.2 L0.6,1.4 L-8.0,1.4Z"/><path transform="translate(479.5,516.8) rotate(-90.0)" d="M-8.0,-1.4 L0.6,-1.4 L0.0,-4.2 L8.0,0.0 L0.0,4.2 L0.6,1.4 L-8.0,1.4Z"/><path transform="translate(511.2,516.8) rotate(-90.0)" d="M-6.0,-1.3 L-1.2,-1.3 L-1.8,-4.0 L6.0,0.0 L-1.8,4.0 L-1.2,1.3 L-6.0,1.3Z"/><path transform="translate(543.0,516.8) rotate(-90.0)" d="M-6.0,-1.3 L-1.2,-1.3 L-1.8,-4.0 L6.0,0.0 L-1.8,4.0 L-1.2,1.3 L-6.0,1.3Z"/><path transform="translate(574.8,516.8) rotate(-90.0)" d="M-6.0,-1.3 L-1.2,-1.3 L-1.8,-4.0 L6.0,0.0 L-1.8,4.0 L-1.2,1.3 L-6.0,1.3Z"/><path transform="translate(606.5,516.8) rotate(-90.0)" d="M-6.0,-1.3 L-1.2,-1.3 L-1.8,-4.0 L6.0,0.0 L-1.8,4.0 L-1.2,1.3 L-6.0,1.3Z"/><path transform="translate(638.2,516.8) rotate(-112.5)" d="M-4.7,-1.3 L-2.3,-1.3 L-2.9,-3.9 L4.7,0.0 L-2.9,3.9 L-2.3,1.3 L-4.7,1.3Z"/><path transform="translate(670.0,516.8) rotate(0.0)" d="M3.0,0.0 L-3.0,-3.2 L-2.2,0.0 L-3.0,3.2Z"/><path transform="translate(701.8,516.8) rotate(-135.0)" d="M-4.7,-1.3 L-2.3,-1.3 L-2.9,-3.9 L4.7,0.0 L-2.9,3.9 L-2.3,1.3 L-4.7,1.3Z"/><path transform="translate(733.5,516.8) rotate(-135.0)" d="M-4.7,-1.3 L-2.3,-1.3 L-2.9,-3.9 L4.7,0.0 L-2.9,3.9 L-2.3,1.3 L-4.7,1.3Z"/><path transform="translate(765.2,516.8) rotate(-135.0)" d="M-4.7,-1.3 L-2.3,-1.3 L-2.9,-3.9 L4.7,0.0 L-2.9,3.9 L-2.3,1.3 L-4.7,1.3Z"/><path transform="translate(797.0,516.8) rotate(-22.5)" d="M3.6,0.0 L-3.6,-3.7 L-2.7,0.0 L-3.6,3.7Z"/><path transform="translate(828.8,516.8) rotate(-90.0)" d="M3.6,0.0 L-3.6,-3.7 L-2.7,0.0 L-3.6,3.7Z"/><path transform="translate(860.5,516.8) rotate(-90.0)" d="M3.6,0.0 L-3.6,-3.7 L-2.7,0.0 L-3.6,3.7Z"/><path transform="translate(892.2,516.8) rotate(-90.0)" d="M3.6,0.0 L-3.6,-3.7 L-2.7,0.0 L-3.6,3.7Z"/><path transform="translate(35.0,548.5) rotate(-135.0)" d="M-6.0,-1.3 L-1.2,-1.3 L-1.8,-4.0 L6.0,0.0 L-1.8,4.0 L-1.2,1.3 L-6.0,1.3Z"/><path transform="translate(66.8,548.5) rotate(-135.0)" d="M-8.0,-1.4 L0.6,-1.4 L0.0,-4.2 L8.0,0.0 L0.0,4.2 L0.6,1.4 L-8.0,1.4Z"/><path transform="translate(98.5,548.5) rotate(-135.0)" d="M-6.0,-1.3 L-1.2,-1.3 L-1.8,-4.0 L6.0,0.0 L-1.8,4.0 L-1.2,1.3 L-6.0,1.3Z"/><path transform="translate(130.2,548.5) rotate(-135.0)" d="M-4.7,-1.3 L-2.3,-1.3 L-2.9,-3.9 L4.7,0.0 L-2.9,3.9 L-2.3,1.3 L-4.7,1.3Z"/><path transform="translate(162.0,548.5) rotate(-135.0)" d="M-4.7,-1.3 L-2.3,-1.3 L-2.9,-3.9 L4.7,0.0 L-2.9,3.9 L-2.3,1.3 L-4.7,1.3Z"/><path transform="translate(193.8,548.5) rotate(-135.0)" d="M-4.7,-1.3 L-2.3,-1.3 L-2.9,-3.9 L4.7,0.0 L-2.9,3.9 L-2.3,1.3 L-4.7,1.3Z"/><path transform="translate(225.5,548.5) rotate(-135.0)" d="M-4.7,-1.3 L-2.3,-1.3 L-2.9,-3.9 L4.7,0.0 L-2.9,3.9 L-2.3,1.3 L-4.7,1.3Z"/><path transform="translate(257.2,548.5) rotate(-112.5)" d="M-6.0,-1.3 L-1.2,-1.3 L-1.8,-4.0 L6.0,0.0 L-1.8,4.0 L-1.2,1.3 L-6.0,1.3Z"/><path transform="translate(289.0,548.5) rotate(-112.5)" d="M-6.0,-1.3 L-1.2,-1.3 L-1.8,-4.0 L6.0,0.0 L-1.8,4.0 L-1.2,1.3 L-6.0,1.3Z"/><path transform="translate(320.8,548.5) rotate(-90.0)" d="M-6.0,-1.3 L-1.2,-1.3 L-1.8,-4.0 L6.0,0.0 L-1.8,4.0 L-1.2,1.3 L-6.0,1.3Z"/><path transform="translate(352.5,548.5) rotate(-90.0)" d="M-6.0,-1.3 L-1.2,-1.3 L-1.8,-4.0 L6.0,0.0 L-1.8,4.0 L-1.2,1.3 L-6.0,1.3Z"/><path transform="translate(384.2,548.5) rotate(-90.0)" d="M-6.0,-1.3 L-1.2,-1.3 L-1.8,-4.0 L6.0,0.0 L-1.8,4.0 L-1.2,1.3 L-6.0,1.3Z"/><path transform="translate(416.0,548.5) rotate(-90.0)" d="M-8.0,-1.4 L0.6,-1.4 L0.0,-4.2 L8.0,0.0 L0.0,4.2 L0.6,1.4 L-8.0,1.4Z"/><path transform="translate(447.8,548.5) rotate(-90.0)" d="M-9.8,-1.4 L1.9,-1.4 L1.2,-4.5 L9.8,0.0 L1.2,4.5 L1.9,1.4 L-9.8,1.4Z"/><path transform="translate(479.5,548.5) rotate(-90.0)" d="M-8.0,-1.4 L0.6,-1.4 L0.0,-4.2 L8.0,0.0 L0.0,4.2 L0.6,1.4 L-8.0,1.4Z"/><path transform="translate(511.2,548.5) rotate(-90.0)" d="M-6.0,-1.3 L-1.2,-1.3 L-1.8,-4.0 L6.0,0.0 L-1.8,4.0 L-1.2,1.3 L-6.0,1.3Z"/><path transform="translate(543.0,548.5) rotate(-90.0)" d="M-6.0,-1.3 L-1.2,-1.3 L-1.8,-4.0 L6.0,0.0 L-1.8,4.0 L-1.2,1.3 L-6.0,1.3Z"/><path transform="translate(574.8,548.5) rotate(-90.0)" d="M-6.0,-1.3 L-1.2,-1.3 L-1.8,-4.0 L6.0,0.0 L-1.8,4.0 L-1.2,1.3 L-6.0,1.3Z"/><path transform="translate(606.5,548.5) rotate(-90.0)" d="M-6.0,-1.3 L-1.2,-1.3 L-1.8,-4.0 L6.0,0.0 L-1.8,4.0 L-1.2,1.3 L-6.0,1.3Z"/><path transform="translate(638.2,548.5) rotate(-112.5)" d="M-6.0,-1.3 L-1.2,-1.3 L-1.8,-4.0 L6.0,0.0 L-1.8,4.0 L-1.2,1.3 L-6.0,1.3Z"/><path transform="translate(670.0,548.5) rotate(-135.0)" d="M-4.7,-1.3 L-2.3,-1.3 L-2.9,-3.9 L4.7,0.0 L-2.9,3.9 L-2.3,1.3 L-4.7,1.3Z"/><path transform="translate(701.8,548.5) rotate(-135.0)" d="M-6.0,-1.3 L-1.2,-1.3 L-1.8,-4.0 L6.0,0.0 L-1.8,4.0 L-1.2,1.3 L-6.0,1.3Z"/><path transform="translate(733.5,548.5) rotate(-135.0)" d="M-4.7,-1.3 L-2.3,-1.3 L-2.9,-3.9 L4.7,0.0 L-2.9,3.9 L-2.3,1.3 L-4.7,1.3Z"/><path transform="translate(765.2,548.5) rotate(0.0)" d="M3.0,0.0 L-3.0,-3.2 L-2.2,0.0 L-3.0,3.2Z"/><path transform="translate(892.2,548.5) rotate(-22.5)" d="M3.6,0.0 L-3.6,-3.7 L-2.7,0.0 L-3.6,3.7Z"/><path transform="translate(924.0,548.5) rotate(-22.5)" d="M3.6,0.0 L-3.6,-3.7 L-2.7,0.0 L-3.6,3.7Z"/><path transform="translate(35.0,580.2) rotate(-135.0)" d="M-8.0,-1.4 L0.6,-1.4 L0.0,-4.2 L8.0,0.0 L0.0,4.2 L0.6,1.4 L-8.0,1.4Z"/><path transform="translate(66.8,580.2) rotate(-135.0)" d="M-8.0,-1.4 L0.6,-1.4 L0.0,-4.2 L8.0,0.0 L0.0,4.2 L0.6,1.4 L-8.0,1.4Z"/><path transform="translate(98.5,580.2) rotate(-135.0)" d="M-8.0,-1.4 L0.6,-1.4 L0.0,-4.2 L8.0,0.0 L0.0,4.2 L0.6,1.4 L-8.0,1.4Z"/><path transform="translate(130.2,580.2) rotate(-135.0)" d="M-6.0,-1.3 L-1.2,-1.3 L-1.8,-4.0 L6.0,0.0 L-1.8,4.0 L-1.2,1.3 L-6.0,1.3Z"/><path transform="translate(162.0,580.2) rotate(-135.0)" d="M-6.0,-1.3 L-1.2,-1.3 L-1.8,-4.0 L6.0,0.0 L-1.8,4.0 L-1.2,1.3 L-6.0,1.3Z"/><path transform="translate(193.8,580.2) rotate(-135.0)" d="M-6.0,-1.3 L-1.2,-1.3 L-1.8,-4.0 L6.0,0.0 L-1.8,4.0 L-1.2,1.3 L-6.0,1.3Z"/><path transform="translate(225.5,580.2) rotate(-135.0)" d="M-6.0,-1.3 L-1.2,-1.3 L-1.8,-4.0 L6.0,0.0 L-1.8,4.0 L-1.2,1.3 L-6.0,1.3Z"/><path transform="translate(257.2,580.2) rotate(-135.0)" d="M-4.7,-1.3 L-2.3,-1.3 L-2.9,-3.9 L4.7,0.0 L-2.9,3.9 L-2.3,1.3 L-4.7,1.3Z"/><path transform="translate(289.0,580.2) rotate(-157.5)" d="M3.0,0.0 L-3.0,-3.2 L-2.2,0.0 L-3.0,3.2Z"/><path transform="translate(320.8,580.2) rotate(-135.0)" d="M-4.7,-1.3 L-2.3,-1.3 L-2.9,-3.9 L4.7,0.0 L-2.9,3.9 L-2.3,1.3 L-4.7,1.3Z"/><path transform="translate(352.5,580.2) rotate(-112.5)" d="M-4.7,-1.3 L-2.3,-1.3 L-2.9,-3.9 L4.7,0.0 L-2.9,3.9 L-2.3,1.3 L-4.7,1.3Z"/><path transform="translate(384.2,580.2) rotate(-90.0)" d="M-6.0,-1.3 L-1.2,-1.3 L-1.8,-4.0 L6.0,0.0 L-1.8,4.0 L-1.2,1.3 L-6.0,1.3Z"/><path transform="translate(416.0,580.2) rotate(-90.0)" d="M-6.0,-1.3 L-1.2,-1.3 L-1.8,-4.0 L6.0,0.0 L-1.8,4.0 L-1.2,1.3 L-6.0,1.3Z"/><path transform="translate(447.8,580.2) rotate(-90.0)" d="M-6.0,-1.3 L-1.2,-1.3 L-1.8,-4.0 L6.0,0.0 L-1.8,4.0 L-1.2,1.3 L-6.0,1.3Z"/><path transform="translate(479.5,580.2) rotate(-90.0)" d="M-6.0,-1.3 L-1.2,-1.3 L-1.8,-4.0 L6.0,0.0 L-1.8,4.0 L-1.2,1.3 L-6.0,1.3Z"/><path transform="translate(511.2,580.2) rotate(-90.0)" d="M-6.0,-1.3 L-1.2,-1.3 L-1.8,-4.0 L6.0,0.0 L-1.8,4.0 L-1.2,1.3 L-6.0,1.3Z"/><path transform="translate(543.0,580.2) rotate(-90.0)" d="M-6.0,-1.3 L-1.2,-1.3 L-1.8,-4.0 L6.0,0.0 L-1.8,4.0 L-1.2,1.3 L-6.0,1.3Z"/><path transform="translate(574.8,580.2) rotate(-90.0)" d="M-6.0,-1.3 L-1.2,-1.3 L-1.8,-4.0 L6.0,0.0 L-1.8,4.0 L-1.2,1.3 L-6.0,1.3Z"/><path transform="translate(606.5,580.2) rotate(-90.0)" d="M-6.0,-1.3 L-1.2,-1.3 L-1.8,-4.0 L6.0,0.0 L-1.8,4.0 L-1.2,1.3 L-6.0,1.3Z"/><path transform="translate(638.2,580.2) rotate(-112.5)" d="M-4.7,-1.3 L-2.3,-1.3 L-2.9,-3.9 L4.7,0.0 L-2.9,3.9 L-2.3,1.3 L-4.7,1.3Z"/><path transform="translate(670.0,580.2) rotate(-135.0)" d="M3.0,0.0 L-3.0,-3.2 L-2.2,0.0 L-3.0,3.2Z"/><path transform="translate(701.8,580.2) rotate(-135.0)" d="M3.0,0.0 L-3.0,-3.2 L-2.2,0.0 L-3.0,3.2Z"/><path transform="translate(733.5,580.2) rotate(0.0)" d="M3.0,0.0 L-3.0,-3.2 L-2.2,0.0 L-3.0,3.2Z"/><path transform="translate(765.2,580.2) rotate(0.0)" d="M3.0,0.0 L-3.0,-3.2 L-2.2,0.0 L-3.0,3.2Z"/><path transform="translate(924.0,612.0) rotate(-22.5)" d="M3.6,0.0 L-3.6,-3.7 L-2.7,0.0 L-3.6,3.7Z"/><path transform="translate(955.8,612.0) rotate(0.0)" d="M3.6,0.0 L-3.6,-3.7 L-2.7,0.0 L-3.6,3.7Z"/><path transform="translate(955.8,643.8) rotate(0.0)" d="M3.6,0.0 L-3.6,-3.7 L-2.7,0.0 L-3.6,3.7Z"/><path transform="translate(1114.5,675.5) rotate(-225.0)" d="M3.0,0.0 L-3.0,-3.2 L-2.2,0.0 L-3.0,3.2Z"/><path transform="translate(1146.2,675.5) rotate(-112.5)" d="M3.0,0.0 L-3.0,-3.2 L-2.2,0.0 L-3.0,3.2Z"/><path transform="translate(1178.0,675.5) rotate(-112.5)" d="M3.0,0.0 L-3.0,-3.2 L-2.2,0.0 L-3.0,3.2Z"/><path transform="translate(1209.8,675.5) rotate(-90.0)" d="M3.0,0.0 L-3.0,-3.2 L-2.2,0.0 L-3.0,3.2Z"/><path transform="translate(1051.0,707.2) rotate(0.0)" d="M3.0,0.0 L-3.0,-3.2 L-2.2,0.0 L-3.0,3.2Z"/><path transform="translate(1146.2,707.2) rotate(-225.0)" d="M3.0,0.0 L-3.0,-3.2 L-2.2,0.0 L-3.0,3.2Z"/><path transform="translate(1178.0,707.2) rotate(0.0)" d="M3.0,0.0 L-3.0,-3.2 L-2.2,0.0 L-3.0,3.2Z"/><path transform="translate(1178.0,739.0) rotate(-270.0)" d="M3.0,0.0 L-3.0,-3.2 L-2.2,0.0 L-3.0,3.2Z"/><path transform="translate(1209.8,739.0) rotate(-292.5)" d="M3.0,0.0 L-3.0,-3.2 L-2.2,0.0 L-3.0,3.2Z"/><path transform="translate(1146.2,770.8) rotate(-315.0)" d="M3.0,0.0 L-3.0,-3.2 L-2.2,0.0 L-3.0,3.2Z"/><path transform="translate(1178.0,770.8) rotate(-225.0)" d="M3.0,0.0 L-3.0,-3.2 L-2.2,0.0 L-3.0,3.2Z"/><path transform="translate(1400.2,770.8) rotate(-315.0)" d="M3.0,0.0 L-3.0,-3.2 L-2.2,0.0 L-3.0,3.2Z"/><path transform="translate(1432.0,770.8) rotate(-315.0)" d="M3.0,0.0 L-3.0,-3.2 L-2.2,0.0 L-3.0,3.2Z"/><path transform="translate(1463.8,770.8) rotate(-315.0)" d="M3.0,0.0 L-3.0,-3.2 L-2.2,0.0 L-3.0,3.2Z"/><path transform="translate(1146.2,802.5) rotate(-315.0)" d="M-6.0,-1.3 L-1.2,-1.3 L-1.8,-4.0 L6.0,0.0 L-1.8,4.0 L-1.2,1.3 L-6.0,1.3Z"/><path transform="translate(1209.8,802.5) rotate(-180.0)" d="M-4.7,-1.3 L-2.3,-1.3 L-2.9,-3.9 L4.7,0.0 L-2.9,3.9 L-2.3,1.3 L-4.7,1.3Z"/><path transform="translate(1241.5,802.5) rotate(-292.5)" d="M-4.7,-1.3 L-2.3,-1.3 L-2.9,-3.9 L4.7,0.0 L-2.9,3.9 L-2.3,1.3 L-4.7,1.3Z"/><path transform="translate(1273.2,802.5) rotate(-292.5)" d="M-4.7,-1.3 L-2.3,-1.3 L-2.9,-3.9 L4.7,0.0 L-2.9,3.9 L-2.3,1.3 L-4.7,1.3Z"/><path transform="translate(1305.0,802.5) rotate(-292.5)" d="M-4.7,-1.3 L-2.3,-1.3 L-2.9,-3.9 L4.7,0.0 L-2.9,3.9 L-2.3,1.3 L-4.7,1.3Z"/><path transform="translate(1336.8,802.5) rotate(-292.5)" d="M-4.7,-1.3 L-2.3,-1.3 L-2.9,-3.9 L4.7,0.0 L-2.9,3.9 L-2.3,1.3 L-4.7,1.3Z"/><path transform="translate(1368.5,802.5) rotate(-315.0)" d="M-6.0,-1.3 L-1.2,-1.3 L-1.8,-4.0 L6.0,0.0 L-1.8,4.0 L-1.2,1.3 L-6.0,1.3Z"/><path transform="translate(1400.2,802.5) rotate(-315.0)" d="M-6.0,-1.3 L-1.2,-1.3 L-1.8,-4.0 L6.0,0.0 L-1.8,4.0 L-1.2,1.3 L-6.0,1.3Z"/><path transform="translate(1432.0,802.5) rotate(-315.0)" d="M-6.0,-1.3 L-1.2,-1.3 L-1.8,-4.0 L6.0,0.0 L-1.8,4.0 L-1.2,1.3 L-6.0,1.3Z"/><path transform="translate(1146.2,834.2) rotate(-292.5)" d="M-8.0,-1.4 L0.6,-1.4 L0.0,-4.2 L8.0,0.0 L0.0,4.2 L0.6,1.4 L-8.0,1.4Z"/><path transform="translate(1178.0,834.2) rotate(-292.5)" d="M-8.0,-1.4 L0.6,-1.4 L0.0,-4.2 L8.0,0.0 L0.0,4.2 L0.6,1.4 L-8.0,1.4Z"/><path transform="translate(1209.8,834.2) rotate(-292.5)" d="M-4.7,-1.3 L-2.3,-1.3 L-2.9,-3.9 L4.7,0.0 L-2.9,3.9 L-2.3,1.3 L-4.7,1.3Z"/><path transform="translate(1241.5,834.2) rotate(-292.5)" d="M-4.7,-1.3 L-2.3,-1.3 L-2.9,-3.9 L4.7,0.0 L-2.9,3.9 L-2.3,1.3 L-4.7,1.3Z"/><path transform="translate(1273.2,834.2) rotate(-292.5)" d="M-4.7,-1.3 L-2.3,-1.3 L-2.9,-3.9 L4.7,0.0 L-2.9,3.9 L-2.3,1.3 L-4.7,1.3Z"/></g>
<g fill="none" stroke="#484848" stroke-width="0.88" stroke-linejoin="miter"><path transform="translate(955.8,40.5) rotate(-135.0)" d="M-2.6,-2.6 L2.6,0 L-2.6,2.6"/><path transform="translate(987.5,40.5) rotate(-90.0)" d="M-2.6,-2.6 L2.6,0 L-2.6,2.6"/><path transform="translate(1019.2,40.5) rotate(-90.0)" d="M-2.8,-2.9 L3,0 L-2.8,2.9" stroke-width="1.25"/><path transform="translate(1209.8,40.5) rotate(0.0)" d="M-2.6,-2.6 L2.6,0 L-2.6,2.6"/><path transform="translate(892.2,72.2) rotate(-157.5)" d="M-2.6,-2.6 L2.6,0 L-2.6,2.6"/><path transform="translate(924.0,72.2) rotate(-180.0)" d="M-2.6,-2.6 L2.6,0 L-2.6,2.6"/><path transform="translate(955.8,72.2) rotate(-180.0)" d="M-2.6,-2.6 L2.6,0 L-2.6,2.6"/><path transform="translate(987.5,72.2) rotate(-135.0)" d="M-2.8,-2.9 L3,0 L-2.8,2.9" stroke-width="1.25"/><path transform="translate(1209.8,72.2) rotate(0.0)" d="M-2.6,-2.6 L2.6,0 L-2.6,2.6"/><path transform="translate(828.8,104.0) rotate(-202.5)" d="M-2.6,-2.6 L2.6,0 L-2.6,2.6"/><path transform="translate(860.5,104.0) rotate(-202.5)" d="M-2.6,-2.6 L2.6,0 L-2.6,2.6"/><path transform="translate(892.2,104.0) rotate(-180.0)" d="M-2.6,-2.6 L2.6,0 L-2.6,2.6"/><path transform="translate(924.0,104.0) rotate(-202.5)" d="M-2.6,-2.6 L2.6,0 L-2.6,2.6"/><path transform="translate(955.8,104.0) rotate(-202.5)" d="M-2.6,-2.6 L2.6,0 L-2.6,2.6"/><path transform="translate(987.5,104.0) rotate(-180.0)" d="M-2.6,-2.6 L2.6,0 L-2.6,2.6"/><path transform="translate(1019.2,104.0) rotate(-112.5)" d="M-2.8,-2.9 L3,0 L-2.8,2.9" stroke-width="1.25"/><path transform="translate(1178.0,104.0) rotate(-22.5)" d="M-2.8,-2.9 L3,0 L-2.8,2.9" stroke-width="1.25"/><path transform="translate(1209.8,104.0) rotate(0.0)" d="M-2.6,-2.6 L2.6,0 L-2.6,2.6"/><path transform="translate(797.0,135.8) rotate(-225.0)" d="M-2.6,-2.6 L2.6,0 L-2.6,2.6"/><path transform="translate(828.8,135.8) rotate(-225.0)" d="M-2.6,-2.6 L2.6,0 L-2.6,2.6"/><path transform="translate(860.5,135.8) rotate(-315.0)" d="M-2.6,-2.6 L2.6,0 L-2.6,2.6"/><path transform="translate(892.2,135.8) rotate(-22.5)" d="M-2.6,-2.6 L2.6,0 L-2.6,2.6"/><path transform="translate(924.0,135.8) rotate(0.0)" d="M-2.6,-2.6 L2.6,0 L-2.6,2.6"/><path transform="translate(955.8,135.8) rotate(-202.5)" d="M-2.6,-2.6 L2.6,0 L-2.6,2.6"/><path transform="translate(987.5,135.8) rotate(-180.0)" d="M-2.6,-2.6 L2.6,0 L-2.6,2.6"/><path transform="translate(1019.2,135.8) rotate(-112.5)" d="M-2.6,-2.6 L2.6,0 L-2.6,2.6"/><path transform="translate(1051.0,135.8) rotate(-45.0)" d="M-2.6,-2.6 L2.6,0 L-2.6,2.6"/><path transform="translate(1146.2,135.8) rotate(-180.0)" d="M-2.8,-2.9 L3,0 L-2.8,2.9" stroke-width="1.25"/><path transform="translate(1178.0,135.8) rotate(-67.5)" d="M-2.6,-2.6 L2.6,0 L-2.6,2.6"/><path transform="translate(1209.8,135.8) rotate(-22.5)" d="M-2.6,-2.6 L2.6,0 L-2.6,2.6"/><path transform="translate(797.0,167.5) rotate(-202.5)" d="M-2.6,-2.6 L2.6,0 L-2.6,2.6"/><path transform="translate(828.8,167.5) rotate(-225.0)" d="M-2.6,-2.6 L2.6,0 L-2.6,2.6"/><path transform="translate(860.5,167.5) rotate(-22.5)" d="M-2.6,-2.6 L2.6,0 L-2.6,2.6"/><path transform="translate(892.2,167.5) rotate(-22.5)" d="M-2.8,-2.9 L3,0 L-2.8,2.9" stroke-width="1.25"/><path transform="translate(924.0,167.5) rotate(-22.5)" d="M-2.6,-2.6 L2.6,0 L-2.6,2.6"/><path transform="translate(955.8,167.5) rotate(-67.5)" d="M-2.6,-2.6 L2.6,0 L-2.6,2.6"/><path transform="translate(987.5,167.5) rotate(-180.0)" d="M-2.6,-2.6 L2.6,0 L-2.6,2.6"/><path transform="translate(1019.2,167.5) rotate(-180.0)" d="M-2.6,-2.6 L2.6,0 L-2.6,2.6"/><path transform="translate(1051.0,167.5) rotate(-180.0)" d="M-2.6,-2.6 L2.6,0 L-2.6,2.6"/><path transform="translate(1082.8,167.5) rotate(0.0)" d="M-2.8,-2.9 L3,0 L-2.8,2.9" stroke-width="1.25"/><path transform="translate(1114.5,167.5) rotate(0.0)" d="M-2.8,-2.9 L3,0 L-2.8,2.9" stroke-width="1.25"/><path transform="translate(1146.2,167.5) rotate(-22.5)" d="M-2.6,-2.6 L2.6,0 L-2.6,2.6"/><path transform="translate(1178.0,167.5) rotate(-67.5)" d="M-2.6,-2.6 L2.6,0 L-2.6,2.6"/><path transform="translate(1209.8,167.5) rotate(-45.0)" d="M-2.6,-2.6 L2.6,0 L-2.6,2.6"/><path transform="translate(1241.5,167.5) rotate(0.0)" d="M-2.6,-2.6 L2.6,0 L-2.6,2.6"/><path transform="translate(733.5,199.2) rotate(-180.0)" d="M-2.6,-2.6 L2.6,0 L-2.6,2.6"/><path transform="translate(765.2,199.2) rotate(-180.0)" d="M-2.6,-2.6 L2.6,0 L-2.6,2.6"/><path transform="translate(797.0,199.2) rotate(-180.0)" d="M-2.6,-2.6 L2.6,0 L-2.6,2.6"/><path transform="translate(828.8,199.2) rotate(-112.5)" d="M-2.6,-2.6 L2.6,0 L-2.6,2.6"/><path transform="translate(860.5,199.2) rotate(-45.0)" d="M-2.6,-2.6 L2.6,0 L-2.6,2.6"/><path transform="translate(892.2,199.2) rotate(-22.5)" d="M-2.6,-2.6 L2.6,0 L-2.6,2.6"/><path transform="translate(924.0,199.2) rotate(-45.0)" d="M-2.6,-2.6 L2.6,0 L-2.6,2.6"/><path transform="translate(955.8,199.2) rotate(-67.5)" d="M-2.6,-2.6 L2.6,0 L-2.6,2.6"/><path transform="translate(987.5,199.2) rotate(-135.0)" d="M-2.6,-2.6 L2.6,0 L-2.6,2.6"/><path transform="translate(1019.2,199.2) rotate(-180.0)" d="M-2.6,-2.6 L2.6,0 L-2.6,2.6"/><path transform="translate(1051.0,199.2) rotate(-337.5)" d="M-2.6,-2.6 L2.6,0 L-2.6,2.6"/><path transform="translate(1082.8,199.2) rotate(0.0)" d="M-2.8,-2.9 L3,0 L-2.8,2.9" stroke-width="1.25"/><path transform="translate(1114.5,199.2) rotate(0.0)" d="M-2.6,-2.6 L2.6,0 L-2.6,2.6"/><path transform="translate(1146.2,199.2) rotate(0.0)" d="M-2.6,-2.6 L2.6,0 L-2.6,2.6"/><path transform="translate(1178.0,199.2) rotate(-67.5)" d="M-2.6,-2.6 L2.6,0 L-2.6,2.6"/><path transform="translate(1209.8,199.2) rotate(-67.5)" d="M-2.6,-2.6 L2.6,0 L-2.6,2.6"/><path transform="translate(765.2,231.0) rotate(-180.0)" d="M-2.6,-2.6 L2.6,0 L-2.6,2.6"/><path transform="translate(797.0,231.0) rotate(-157.5)" d="M-2.6,-2.6 L2.6,0 L-2.6,2.6"/><path transform="translate(828.8,231.0) rotate(-67.5)" d="M-2.6,-2.6 L2.6,0 L-2.6,2.6"/><path transform="translate(860.5,231.0) rotate(-135.0)" d="M-2.6,-2.6 L2.6,0 L-2.6,2.6"/><path transform="translate(892.2,231.0) rotate(-157.5)" d="M-2.6,-2.6 L2.6,0 L-2.6,2.6"/><path transform="translate(924.0,231.0) rotate(-112.5)" d="M-2.6,-2.6 L2.6,0 L-2.6,2.6"/><path transform="translate(955.8,231.0) rotate(-112.5)" d="M-2.6,-2.6 L2.6,0 L-2.6,2.6"/><path transform="translate(987.5,231.0) rotate(-112.5)" d="M-2.6,-2.6 L2.6,0 L-2.6,2.6"/><path transform="translate(1019.2,231.0) rotate(-112.5)" d="M-2.6,-2.6 L2.6,0 L-2.6,2.6"/><path transform="translate(1051.0,231.0) rotate(0.0)" d="M-2.6,-2.6 L2.6,0 L-2.6,2.6"/><path transform="translate(1082.8,231.0) rotate(0.0)" d="M-2.6,-2.6 L2.6,0 L-2.6,2.6"/><path transform="translate(1114.5,231.0) rotate(0.0)" d="M-2.6,-2.6 L2.6,0 L-2.6,2.6"/><path transform="translate(1146.2,231.0) rotate(-22.5)" d="M-2.6,-2.6 L2.6,0 L-2.6,2.6"/><path transform="translate(1178.0,231.0) rotate(-67.5)" d="M-2.6,-2.6 L2.6,0 L-2.6,2.6"/><path transform="translate(1209.8,231.0) rotate(-67.5)" d="M-2.8,-2.9 L3,0 L-2.8,2.9" stroke-width="1.25"/><path transform="translate(797.0,262.8) rotate(-180.0)" d="M-2.8,-2.9 L3,0 L-2.8,2.9" stroke-width="1.25"/><path transform="translate(828.8,262.8) rotate(-180.0)" d="M-2.8,-2.9 L3,0 L-2.8,2.9" stroke-width="1.25"/><path transform="translate(860.5,262.8) rotate(-157.5)" d="M-2.6,-2.6 L2.6,0 L-2.6,2.6"/><path transform="translate(892.2,262.8) rotate(-157.5)" d="M-2.6,-2.6 L2.6,0 L-2.6,2.6"/><path transform="translate(924.0,262.8) rotate(-157.5)" d="M-2.6,-2.6 L2.6,0 L-2.6,2.6"/><path transform="translate(955.8,262.8) rotate(-157.5)" d="M-2.6,-2.6 L2.6,0 L-2.6,2.6"/><path transform="translate(987.5,262.8) rotate(-157.5)" d="M-2.6,-2.6 L2.6,0 L-2.6,2.6"/><path transform="translate(1019.2,262.8) rotate(-180.0)" d="M-2.6,-2.6 L2.6,0 L-2.6,2.6"/><path transform="translate(1051.0,262.8) rotate(-270.0)" d="M-2.6,-2.6 L2.6,0 L-2.6,2.6"/><path transform="translate(1082.8,262.8) rotate(-270.0)" d="M-2.6,-2.6 L2.6,0 L-2.6,2.6"/><path transform="translate(1114.5,262.8) rotate(-315.0)" d="M-2.6,-2.6 L2.6,0 L-2.6,2.6"/><path transform="translate(1146.2,262.8) rotate(-315.0)" d="M-2.6,-2.6 L2.6,0 L-2.6,2.6"/><path transform="translate(1178.0,262.8) rotate(-67.5)" d="M-2.6,-2.6 L2.6,0 L-2.6,2.6"/><path transform="translate(1209.8,262.8) rotate(-67.5)" d="M-2.8,-2.9 L3,0 L-2.8,2.9" stroke-width="1.25"/><path transform="translate(1241.5,262.8) rotate(-67.5)" d="M-2.8,-2.9 L3,0 L-2.8,2.9" stroke-width="1.25"/><path transform="translate(797.0,294.5) rotate(-180.0)" d="M-2.8,-2.9 L3,0 L-2.8,2.9" stroke-width="1.25"/><path transform="translate(828.8,294.5) rotate(-180.0)" d="M-2.8,-2.9 L3,0 L-2.8,2.9" stroke-width="1.25"/><path transform="translate(860.5,294.5) rotate(-157.5)" d="M-2.6,-2.6 L2.6,0 L-2.6,2.6"/><path transform="translate(892.2,294.5) rotate(-157.5)" d="M-2.6,-2.6 L2.6,0 L-2.6,2.6"/><path transform="translate(924.0,294.5) rotate(-180.0)" d="M-2.6,-2.6 L2.6,0 L-2.6,2.6"/><path transform="translate(955.8,294.5) rotate(-180.0)" d="M-2.6,-2.6 L2.6,0 L-2.6,2.6"/><path transform="translate(987.5,294.5) rotate(-180.0)" d="M-2.6,-2.6 L2.6,0 L-2.6,2.6"/><path transform="translate(1019.2,294.5) rotate(-202.5)" d="M-2.6,-2.6 L2.6,0 L-2.6,2.6"/><path transform="translate(1051.0,294.5) rotate(-247.5)" d="M-2.6,-2.6 L2.6,0 L-2.6,2.6"/><path transform="translate(1082.8,294.5) rotate(-270.0)" d="M-2.6,-2.6 L2.6,0 L-2.6,2.6"/><path transform="translate(1114.5,294.5) rotate(-315.0)" d="M-2.6,-2.6 L2.6,0 L-2.6,2.6"/><path transform="translate(1146.2,294.5) rotate(-337.5)" d="M-2.6,-2.6 L2.6,0 L-2.6,2.6"/><path transform="translate(1178.0,294.5) rotate(-67.5)" d="M-2.6,-2.6 L2.6,0 L-2.6,2.6"/><path transform="translate(1209.8,294.5) rotate(-67.5)" d="M-2.8,-2.9 L3,0 L-2.8,2.9" stroke-width="1.25"/><path transform="translate(1241.5,294.5) rotate(-67.5)" d="M-2.6,-2.6 L2.6,0 L-2.6,2.6"/><path transform="translate(797.0,326.2) rotate(-225.0)" d="M-2.8,-2.9 L3,0 L-2.8,2.9" stroke-width="1.25"/><path transform="translate(828.8,326.2) rotate(-180.0)" d="M-2.6,-2.6 L2.6,0 L-2.6,2.6"/><path transform="translate(860.5,326.2) rotate(-157.5)" d="M-2.6,-2.6 L2.6,0 L-2.6,2.6"/><path transform="translate(892.2,326.2) rotate(-157.5)" d="M-2.6,-2.6 L2.6,0 L-2.6,2.6"/><path transform="translate(924.0,326.2) rotate(-180.0)" d="M-2.8,-2.9 L3,0 L-2.8,2.9" stroke-width="1.25"/><path transform="translate(955.8,326.2) rotate(-180.0)" d="M-2.8,-2.9 L3,0 L-2.8,2.9" stroke-width="1.25"/><path transform="translate(987.5,326.2) rotate(-180.0)" d="M-2.6,-2.6 L2.6,0 L-2.6,2.6"/><path transform="translate(1019.2,326.2) rotate(-202.5)" d="M-2.6,-2.6 L2.6,0 L-2.6,2.6"/><path transform="translate(1051.0,326.2) rotate(-247.5)" d="M-2.6,-2.6 L2.6,0 L-2.6,2.6"/><path transform="translate(1082.8,326.2) rotate(-315.0)" d="M-2.6,-2.6 L2.6,0 L-2.6,2.6"/><path transform="translate(1114.5,326.2) rotate(-337.5)" d="M-2.6,-2.6 L2.6,0 L-2.6,2.6"/><path transform="translate(1146.2,326.2) rotate(-337.5)" d="M-2.6,-2.6 L2.6,0 L-2.6,2.6"/><path transform="translate(1178.0,326.2) rotate(-22.5)" d="M-2.6,-2.6 L2.6,0 L-2.6,2.6"/><path transform="translate(1209.8,326.2) rotate(-45.0)" d="M-2.6,-2.6 L2.6,0 L-2.6,2.6"/><path transform="translate(1241.5,326.2) rotate(-67.5)" d="M-2.6,-2.6 L2.6,0 L-2.6,2.6"/><path transform="translate(765.2,358.0) rotate(-180.0)" d="M-2.6,-2.6 L2.6,0 L-2.6,2.6"/><path transform="translate(797.0,358.0) rotate(-247.5)" d="M-2.6,-2.6 L2.6,0 L-2.6,2.6"/><path transform="translate(828.8,358.0) rotate(-247.5)" d="M-2.6,-2.6 L2.6,0 L-2.6,2.6"/><path transform="translate(860.5,358.0) rotate(-112.5)" d="M-2.6,-2.6 L2.6,0 L-2.6,2.6"/><path transform="translate(892.2,358.0) rotate(-135.0)" d="M-2.6,-2.6 L2.6,0 L-2.6,2.6"/><path transform="translate(924.0,358.0) rotate(-180.0)" d="M-2.8,-2.9 L3,0 L-2.8,2.9" stroke-width="1.25"/><path transform="translate(955.8,358.0) rotate(-180.0)" d="M-2.8,-2.9 L3,0 L-2.8,2.9" stroke-width="1.25"/><path transform="translate(987.5,358.0) rotate(-112.5)" d="M-2.6,-2.6 L2.6,0 L-2.6,2.6"/><path transform="translate(1019.2,358.0) rotate(-225.0)" d="M-2.6,-2.6 L2.6,0 L-2.6,2.6"/><path transform="translate(1051.0,358.0) rotate(-247.5)" d="M-2.6,-2.6 L2.6,0 L-2.6,2.6"/><path transform="translate(1082.8,358.0) rotate(-315.0)" d="M-2.6,-2.6 L2.6,0 L-2.6,2.6"/><path transform="translate(1114.5,358.0) rotate(0.0)" d="M-2.6,-2.6 L2.6,0 L-2.6,2.6"/><path transform="translate(1146.2,358.0) rotate(0.0)" d="M-2.6,-2.6 L2.6,0 L-2.6,2.6"/><path transform="translate(1178.0,358.0) rotate(0.0)" d="M-2.6,-2.6 L2.6,0 L-2.6,2.6"/><path transform="translate(1209.8,358.0) rotate(-22.5)" d="M-2.6,-2.6 L2.6,0 L-2.6,2.6"/><path transform="translate(1241.5,358.0) rotate(-22.5)" d="M-2.6,-2.6 L2.6,0 L-2.6,2.6"/><path transform="translate(765.2,389.8) rotate(-135.0)" d="M-2.6,-2.6 L2.6,0 L-2.6,2.6"/><path transform="translate(797.0,389.8) rotate(-90.0)" d="M-2.8,-2.9 L3,0 L-2.8,2.9" stroke-width="1.25"/><path transform="translate(828.8,389.8) rotate(-90.0)" d="M-2.6,-2.6 L2.6,0 L-2.6,2.6"/><path transform="translate(860.5,389.8) rotate(-22.5)" d="M-2.6,-2.6 L2.6,0 L-2.6,2.6"/><path transform="translate(892.2,389.8) rotate(-67.5)" d="M-2.6,-2.6 L2.6,0 L-2.6,2.6"/><path transform="translate(924.0,389.8) rotate(-22.5)" d="M-2.6,-2.6 L2.6,0 L-2.6,2.6"/><path transform="translate(955.8,389.8) rotate(0.0)" d="M-2.6,-2.6 L2.6,0 L-2.6,2.6"/><path transform="translate(987.5,389.8) rotate(-90.0)" d="M-2.8,-2.9 L3,0 L-2.8,2.9" stroke-width="1.25"/><path transform="translate(1019.2,389.8) rotate(-247.5)" d="M-2.8,-2.9 L3,0 L-2.8,2.9" stroke-width="1.25"/><path transform="translate(1051.0,389.8) rotate(-270.0)" d="M-2.8,-2.9 L3,0 L-2.8,2.9" stroke-width="1.25"/><path transform="translate(1082.8,389.8) rotate(-270.0)" d="M-2.6,-2.6 L2.6,0 L-2.6,2.6"/><path transform="translate(1114.5,389.8) rotate(-315.0)" d="M-2.6,-2.6 L2.6,0 L-2.6,2.6"/><path transform="translate(1146.2,389.8) rotate(-315.0)" d="M-2.6,-2.6 L2.6,0 L-2.6,2.6"/><path transform="translate(1178.0,389.8) rotate(-157.5)" d="M-2.6,-2.6 L2.6,0 L-2.6,2.6"/><path transform="translate(1209.8,389.8) rotate(-90.0)" d="M-2.6,-2.6 L2.6,0 L-2.6,2.6"/><path transform="translate(1241.5,389.8) rotate(0.0)" d="M-2.6,-2.6 L2.6,0 L-2.6,2.6"/><path transform="translate(384.2,421.5) rotate(-180.0)" d="M-2.6,-2.6 L2.6,0 L-2.6,2.6"/><path transform="translate(416.0,421.5) rotate(-202.5)" d="M-2.6,-2.6 L2.6,0 L-2.6,2.6"/><path transform="translate(924.0,421.5) rotate(-135.0)" d="M-2.8,-2.9 L3,0 L-2.8,2.9" stroke-width="1.25"/><path transform="translate(955.8,421.5) rotate(-112.5)" d="M-2.6,-2.6 L2.6,0 L-2.6,2.6"/><path transform="translate(987.5,421.5) rotate(-247.5)" d="M-2.6,-2.6 L2.6,0 L-2.6,2.6"/><path transform="translate(1019.2,421.5) rotate(-270.0)" d="M-2.6,-2.6 L2.6,0 L-2.6,2.6"/><path transform="translate(1051.0,421.5) rotate(-270.0)" d="M-2.8,-2.9 L3,0 L-2.8,2.9" stroke-width="1.25"/><path transform="translate(1082.8,421.5) rotate(-292.5)" d="M-2.8,-2.9 L3,0 L-2.8,2.9" stroke-width="1.25"/><path transform="translate(1114.5,421.5) rotate(-315.0)" d="M-2.6,-2.6 L2.6,0 L-2.6,2.6"/><path transform="translate(1146.2,421.5) rotate(-270.0)" d="M-2.6,-2.6 L2.6,0 L-2.6,2.6"/><path transform="translate(1178.0,421.5) rotate(-180.0)" d="M-2.8,-2.9 L3,0 L-2.8,2.9" stroke-width="1.25"/><path transform="translate(1209.8,421.5) rotate(-157.5)" d="M-2.8,-2.9 L3,0 L-2.8,2.9" stroke-width="1.25"/><path transform="translate(1241.5,421.5) rotate(-315.0)" d="M-2.6,-2.6 L2.6,0 L-2.6,2.6"/><path transform="translate(384.2,453.2) rotate(-90.0)" d="M-2.6,-2.6 L2.6,0 L-2.6,2.6"/><path transform="translate(416.0,453.2) rotate(-90.0)" d="M-2.6,-2.6 L2.6,0 L-2.6,2.6"/><path transform="translate(924.0,453.2) rotate(-90.0)" d="M-2.8,-2.9 L3,0 L-2.8,2.9" stroke-width="1.25"/><path transform="translate(955.8,453.2) rotate(-112.5)" d="M-2.8,-2.9 L3,0 L-2.8,2.9" stroke-width="1.25"/><path transform="translate(987.5,453.2) rotate(-67.5)" d="M-2.6,-2.6 L2.6,0 L-2.6,2.6"/><path transform="translate(1019.2,453.2) rotate(0.0)" d="M-2.6,-2.6 L2.6,0 L-2.6,2.6"/><path transform="translate(1051.0,453.2) rotate(-315.0)" d="M-2.6,-2.6 L2.6,0 L-2.6,2.6"/><path transform="translate(1082.8,453.2) rotate(-315.0)" d="M-2.8,-2.9 L3,0 L-2.8,2.9" stroke-width="1.25"/><path transform="translate(1114.5,453.2) rotate(-225.0)" d="M-2.8,-2.9 L3,0 L-2.8,2.9" stroke-width="1.25"/><path transform="translate(1146.2,453.2) rotate(-247.5)" d="M-2.6,-2.6 L2.6,0 L-2.6,2.6"/><path transform="translate(1178.0,453.2) rotate(-202.5)" d="M-2.6,-2.6 L2.6,0 L-2.6,2.6"/><path transform="translate(1209.8,453.2) rotate(-180.0)" d="M-2.6,-2.6 L2.6,0 L-2.6,2.6"/><path transform="translate(1241.5,453.2) rotate(-247.5)" d="M-2.6,-2.6 L2.6,0 L-2.6,2.6"/><path transform="translate(924.0,485.0) rotate(-67.5)" d="M-2.8,-2.9 L3,0 L-2.8,2.9" stroke-width="1.25"/><path transform="translate(955.8,485.0) rotate(-90.0)" d="M-2.6,-2.6 L2.6,0 L-2.6,2.6"/><path transform="translate(987.5,485.0) rotate(-90.0)" d="M-2.6,-2.6 L2.6,0 L-2.6,2.6"/><path transform="translate(1019.2,485.0) rotate(-45.0)" d="M-2.6,-2.6 L2.6,0 L-2.6,2.6"/><path transform="translate(1051.0,485.0) rotate(-337.5)" d="M-2.6,-2.6 L2.6,0 L-2.6,2.6"/><path transform="translate(1082.8,485.0) rotate(-225.0)" d="M-2.8,-2.9 L3,0 L-2.8,2.9" stroke-width="1.25"/><path transform="translate(1114.5,485.0) rotate(-225.0)" d="M-2.8,-2.9 L3,0 L-2.8,2.9" stroke-width="1.25"/><path transform="translate(1146.2,485.0) rotate(-247.5)" d="M-2.6,-2.6 L2.6,0 L-2.6,2.6"/><path transform="translate(1178.0,485.0) rotate(-270.0)" d="M-2.6,-2.6 L2.6,0 L-2.6,2.6"/><path transform="translate(1209.8,485.0) rotate(-270.0)" d="M-2.6,-2.6 L2.6,0 L-2.6,2.6"/><path transform="translate(1241.5,485.0) rotate(-247.5)" d="M-2.6,-2.6 L2.6,0 L-2.6,2.6"/><path transform="translate(924.0,516.8) rotate(-112.5)" d="M-2.8,-2.9 L3,0 L-2.8,2.9" stroke-width="1.25"/><path transform="translate(955.8,516.8) rotate(-112.5)" d="M-2.8,-2.9 L3,0 L-2.8,2.9" stroke-width="1.25"/><path transform="translate(987.5,516.8) rotate(-112.5)" d="M-2.6,-2.6 L2.6,0 L-2.6,2.6"/><path transform="translate(1019.2,516.8) rotate(-157.5)" d="M-2.6,-2.6 L2.6,0 L-2.6,2.6"/><path transform="translate(1051.0,516.8) rotate(-157.5)" d="M-2.6,-2.6 L2.6,0 L-2.6,2.6"/><path transform="translate(1082.8,516.8) rotate(-225.0)" d="M-2.8,-2.9 L3,0 L-2.8,2.9" stroke-width="1.25"/><path transform="translate(1114.5,516.8) rotate(-225.0)" d="M-2.8,-2.9 L3,0 L-2.8,2.9" stroke-width="1.25"/><path transform="translate(1146.2,516.8) rotate(-247.5)" d="M-2.6,-2.6 L2.6,0 L-2.6,2.6"/><path transform="translate(1178.0,516.8) rotate(-225.0)" d="M-2.6,-2.6 L2.6,0 L-2.6,2.6"/><path transform="translate(1209.8,516.8) rotate(-202.5)" d="M-2.6,-2.6 L2.6,0 L-2.6,2.6"/><path transform="translate(797.0,548.5) rotate(-135.0)" d="M-2.8,-2.9 L3,0 L-2.8,2.9" stroke-width="1.25"/><path transform="translate(828.8,548.5) rotate(-90.0)" d="M-2.6,-2.6 L2.6,0 L-2.6,2.6"/><path transform="translate(860.5,548.5) rotate(-90.0)" d="M-2.6,-2.6 L2.6,0 L-2.6,2.6"/><path transform="translate(955.8,548.5) rotate(-157.5)" d="M-2.6,-2.6 L2.6,0 L-2.6,2.6"/><path transform="translate(987.5,548.5) rotate(-157.5)" d="M-2.6,-2.6 L2.6,0 L-2.6,2.6"/><path transform="translate(1019.2,548.5) rotate(-157.5)" d="M-2.6,-2.6 L2.6,0 L-2.6,2.6"/><path transform="translate(1051.0,548.5) rotate(-157.5)" d="M-2.6,-2.6 L2.6,0 L-2.6,2.6"/><path transform="translate(1082.8,548.5) rotate(-247.5)" d="M-2.6,-2.6 L2.6,0 L-2.6,2.6"/><path transform="translate(1114.5,548.5) rotate(-247.5)" d="M-2.8,-2.9 L3,0 L-2.8,2.9" stroke-width="1.25"/><path transform="translate(1146.2,548.5) rotate(-270.0)" d="M-2.6,-2.6 L2.6,0 L-2.6,2.6"/><path transform="translate(1178.0,548.5) rotate(-157.5)" d="M-2.6,-2.6 L2.6,0 L-2.6,2.6"/><path transform="translate(1209.8,548.5) rotate(-135.0)" d="M-2.8,-2.9 L3,0 L-2.8,2.9" stroke-width="1.25"/><path transform="translate(797.0,580.2) rotate(-112.5)" d="M-2.8,-2.9 L3,0 L-2.8,2.9" stroke-width="1.25"/><path transform="translate(828.8,580.2) rotate(-67.5)" d="M-2.6,-2.6 L2.6,0 L-2.6,2.6"/><path transform="translate(892.2,580.2) rotate(-22.5)" d="M-2.6,-2.6 L2.6,0 L-2.6,2.6"/><path transform="translate(924.0,580.2) rotate(-22.5)" d="M-2.6,-2.6 L2.6,0 L-2.6,2.6"/><path transform="translate(955.8,580.2) rotate(-22.5)" d="M-2.6,-2.6 L2.6,0 L-2.6,2.6"/><path transform="translate(987.5,580.2) rotate(-157.5)" d="M-2.6,-2.6 L2.6,0 L-2.6,2.6"/><path transform="translate(1019.2,580.2) rotate(-180.0)" d="M-2.6,-2.6 L2.6,0 L-2.6,2.6"/><path transform="translate(1051.0,580.2) rotate(-202.5)" d="M-2.6,-2.6 L2.6,0 L-2.6,2.6"/><path transform="translate(1082.8,580.2) rotate(-292.5)" d="M-2.6,-2.6 L2.6,0 L-2.6,2.6"/><path transform="translate(1114.5,580.2) rotate(-292.5)" d="M-2.6,-2.6 L2.6,0 L-2.6,2.6"/><path transform="translate(1146.2,580.2) rotate(-180.0)" d="M-2.8,-2.9 L3,0 L-2.8,2.9" stroke-width="1.25"/><path transform="translate(1178.0,580.2) rotate(-157.5)" d="M-2.8,-2.9 L3,0 L-2.8,2.9" stroke-width="1.25"/><path transform="translate(1209.8,580.2) rotate(-135.0)" d="M-2.8,-2.9 L3,0 L-2.8,2.9" stroke-width="1.25"/><path transform="translate(892.2,612.0) rotate(-337.5)" d="M-2.6,-2.6 L2.6,0 L-2.6,2.6"/><path transform="translate(987.5,612.0) rotate(0.0)" d="M-2.8,-2.9 L3,0 L-2.8,2.9" stroke-width="1.25"/><path transform="translate(1019.2,612.0) rotate(-337.5)" d="M-2.6,-2.6 L2.6,0 L-2.6,2.6"/><path transform="translate(1051.0,612.0) rotate(0.0)" d="M-2.6,-2.6 L2.6,0 L-2.6,2.6"/><path transform="translate(1082.8,612.0) rotate(-22.5)" d="M-2.6,-2.6 L2.6,0 L-2.6,2.6"/><path transform="translate(1114.5,612.0) rotate(-45.0)" d="M-2.6,-2.6 L2.6,0 L-2.6,2.6"/><path transform="translate(1146.2,612.0) rotate(-180.0)" d="M-2.6,-2.6 L2.6,0 L-2.6,2.6"/><path transform="translate(1178.0,612.0) rotate(-180.0)" d="M-2.6,-2.6 L2.6,0 L-2.6,2.6"/><path transform="translate(1209.8,612.0) rotate(-157.5)" d="M-2.6,-2.6 L2.6,0 L-2.6,2.6"/><path transform="translate(987.5,643.8) rotate(0.0)" d="M-2.8,-2.9 L3,0 L-2.8,2.9" stroke-width="1.25"/><path transform="translate(1019.2,643.8) rotate(-337.5)" d="M-2.6,-2.6 L2.6,0 L-2.6,2.6"/><path transform="translate(1051.0,643.8) rotate(-22.5)" d="M-2.6,-2.6 L2.6,0 L-2.6,2.6"/><path transform="translate(1082.8,643.8) rotate(-45.0)" d="M-2.6,-2.6 L2.6,0 L-2.6,2.6"/><path transform="translate(1114.5,643.8) rotate(-90.0)" d="M-2.6,-2.6 L2.6,0 L-2.6,2.6"/><path transform="translate(1146.2,643.8) rotate(-202.5)" d="M-2.6,-2.6 L2.6,0 L-2.6,2.6"/><path transform="translate(1178.0,643.8) rotate(-202.5)" d="M-2.6,-2.6 L2.6,0 L-2.6,2.6"/><path transform="translate(1209.8,643.8) rotate(-247.5)" d="M-2.6,-2.6 L2.6,0 L-2.6,2.6"/><path transform="translate(955.8,675.5) rotate(-112.5)" d="M-2.6,-2.6 L2.6,0 L-2.6,2.6"/><path transform="translate(987.5,675.5) rotate(-45.0)" d="M-2.6,-2.6 L2.6,0 L-2.6,2.6"/><path transform="translate(1019.2,675.5) rotate(-22.5)" d="M-2.6,-2.6 L2.6,0 L-2.6,2.6"/><path transform="translate(1051.0,675.5) rotate(-22.5)" d="M-2.6,-2.6 L2.6,0 L-2.6,2.6"/><path transform="translate(1082.8,675.5) rotate(-45.0)" d="M-2.6,-2.6 L2.6,0 L-2.6,2.6"/><path transform="translate(1019.2,707.2) rotate(-22.5)" d="M-2.6,-2.6 L2.6,0 L-2.6,2.6"/><path transform="translate(1082.8,707.2) rotate(0.0)" d="M-2.6,-2.6 L2.6,0 L-2.6,2.6"/><path transform="translate(1114.5,707.2) rotate(-202.5)" d="M-2.6,-2.6 L2.6,0 L-2.6,2.6"/><path transform="translate(1082.8,739.0) rotate(-45.0)" d="M-2.6,-2.6 L2.6,0 L-2.6,2.6"/><path transform="translate(1114.5,739.0) rotate(-112.5)" d="M-2.6,-2.6 L2.6,0 L-2.6,2.6"/><path transform="translate(1146.2,739.0) rotate(-270.0)" d="M-2.6,-2.6 L2.6,0 L-2.6,2.6"/><path transform="translate(1082.8,866.0) rotate(-180.0)" d="M-2.6,-2.6 L2.6,0 L-2.6,2.6"/></g>
<g fill="none" stroke="#000" stroke-width="2.2" stroke-linejoin="round" stroke-linecap="round">
<path d="M175.8,355.0 L266.2,336.2 L307.0,333.0 L327.5,336.2 L337.5,336.2 L357.5,333.0 L384.0,337.5 L428.8,343.0 L442.5,352.5 L462.5,360.8 L480.0,355.0 L493.8,352.0 L547.5,352.0 L556.2,354.5 L570.0,354.5 L585.0,348.8 L600.0,348.8 L621.2,339.5 L635.0,326.2 L650.0,317.5 L655.0,317.5 L655.0,317.5 L672.5,308.2 L697.5,307.5 L707.5,303.8 L713.8,295.0 L714.5,285.0 L710.0,265.0 L705.5,250.8 L693.0,249.2 L697.5,243.0 L705.5,240.0 L712.5,242.5 L723.8,236.2 L727.5,224.2 L713.8,223.8 L711.2,218.0 L700.8,222.5 L701.2,217.5 L693.0,213.8 L695.5,206.2 L690.0,205.0 L682.0,195.5 L700.0,186.2 L703.8,182.5 L722.5,174.2 L747.5,167.0 L765.0,155.0 L772.5,148.8 L779.2,148.2 L778.8,145.8 L782.5,145.0 L790.0,140.0 L793.8,133.8 L790.0,131.2 L794.5,122.5 L800.0,113.8 L812.5,106.2 L822.5,100.0 L800.0,115.0 L842.5,86.2 L883.8,58.8 L902.5,52.5 L955.0,30.0 L968.8,27.0 L977.5,30.5 L1164.0,29.5 L1245.0,27.5 L1247.5,39.5 L1236.2,43.0 L1240.5,48.8 L1235.0,65.0 L1243.8,65.5 L1240.0,73.8 L1235.0,72.5 L1236.2,80.0 L1240.0,80.5 L1239.5,86.2 L1228.8,83.8 L1230.0,100.0 L1228.8,108.8 L1236.2,121.2 L1235.0,130.0 L1238.0,136.2 L1236.2,141.2 L1240.0,137.5 L1241.2,145.0 L1248.2,158.8 L1247.5,171.2 L1238.8,179.5 L1231.2,183.8 L1234.5,190.0 L1225.0,210.0 L1228.0,215.0 L1231.2,212.5 L1235.0,217.5 L1235.0,232.5 L1240.0,246.2 L1235.5,253.0 L1243.8,260.0 L1243.8,267.5 L1235.0,275.0 L1230.0,287.5 L1231.2,295.0 L1236.2,298.8 L1243.8,287.0 L1253.0,287.0 L1255.0,295.0 L1263.0,299.2 L1264.5,310.0 L1261.2,400.0 L1259.5,440.0 L1262.5,452.0 L1217.5,573.0 L1220.5,582.5 L1221.2,580.0 L1208.8,725.0 L1221.2,738.8 L1175.5,760.0 L1189.6,780.4 L1183.6,788.4 L1170.5,792.4 L1158.5,804.5 L1158.5,812.5 L1154.4,810.9 L1151.4,816.9 L1146.4,816.5 L1137.4,820.5 L1130.7,828.6 L1128.3,833.6 L1121.9,836.6 L1121.9,826.6 L1141.4,795.4 L1142.8,779.8 L1060.0,742.6 L995.0,713.8 L995.0,708.0 L983.8,704.5 L987.0,698.8 L973.8,701.2 L972.5,698.8 L960.0,698.8 L948.8,688.8 L940.0,691.2 L935.0,680.0 L921.2,667.5 L927.0,661.2 L927.0,655.0 L921.2,648.8 L927.0,646.2 L925.5,638.8 L915.5,636.2 L920.0,631.2 L912.5,620.0 L906.2,620.5 L902.5,617.5 L893.8,620.5 L887.5,617.5 L883.8,605.0 L873.8,601.2 L871.2,595.0 L860.0,591.2 L862.5,592.5 L13.0,592.5 L13.0,553.0 L45.0,542.5 L51.2,539.0 L104.5,514.2 L110.0,508.0 L120.0,501.2 L141.2,492.0 L160.0,489.5 L166.2,477.5 L176.2,470.8 L176.2,467.5 L182.0,461.2 L197.5,456.2 L217.0,446.2 L213.8,433.8 L206.2,423.8 L204.5,414.5 L200.0,415.0 L185.5,407.5 L186.2,393.0 L176.2,390.0 L176.2,383.0 L181.2,377.5 L178.0,371.2 L178.0,357.5 L175.8,355.0Z"/>
<path d="M1121.9,838.6 L1128.3,834.6 L1137.4,821.6 L1143.4,820.5 L1149.4,822.6 L1154.4,818.5 L1170.5,823.0 L1168.5,811.5 L1177.5,814.5 L1174.5,808.5 L1178.5,804.5 L1188.6,814.5 L1190.6,800.5 L1193.6,798.0 L1211.7,795.4 L1214.7,798.5 L1207.7,801.5 L1220.7,801.5 L1217.7,792.4 L1227.8,792.4 L1229.8,798.5 L1239.8,798.0 L1235.8,795.4 L1236.4,789.4 L1245.8,794.4 L1248.9,792.4 L1268.0,798.0 L1282.6,792.4 L1283.0,786.0 L1282.5,785.8 L1362.5,785.8 L1380.0,782.8 L1390.0,779.2 L1399.2,773.3 L1408.3,770.0 L1415.8,764.2 L1421.7,763.7 L1434.2,754.7 L1455.8,751.7 L1434.2,754.7 L1425.0,765.8 L1418.3,771.3 L1423.3,773.3 L1416.7,774.2 L1418.0,782.5 L1413.3,780.0 L1410.0,782.5 L1402.5,783.0 L1390.8,790.8 L1380.0,795.3 L1390.0,798.3 L1394.2,795.3 L1398.3,798.3 L1411.7,798.0 L1418.3,790.0 L1422.5,789.2 L1427.5,782.8 L1440.0,779.7 L1436.7,773.3 L1440.8,777.5 L1442.5,779.7 L1450.0,779.7 L1451.7,773.3 L1463.3,773.3 L1468.3,770.3 L1481.7,783.3 L1488.3,777.0 L1495.8,777.0 L1502.5,770.8 L1509.2,770.0 L1510.8,766.7 L1515.0,764.2 L1528.3,767.0 L1481.7,784.2 L1450.0,795.3 L1435.0,801.7 L1416.7,807.5 L1418.0,801.7 L1405.8,801.7 L1405.0,807.5 L1395.0,808.0 L1388.3,814.2 L1376.7,814.2 L1376.3,817.0 L1358.0,817.0 L1356.7,820.0 L1346.3,820.0 L1345.8,824.2 L1337.5,829.2 L1327.5,826.7 L1322.5,829.7 L1309.2,826.7 L1305.8,829.7 L1337.3,829.0 L1327.2,827.0 L1321.2,829.6 L1309.2,827.0 L1304.1,829.6 L1287.0,832.6 L1283.0,836.2 L1269.0,833.6 L1264.9,836.6 L1235.8,845.1 L1224.8,845.1 L1218.7,847.7 L1208.7,848.7 L1207.7,850.7 L1196.6,851.7 L1187.6,854.7 L1183.6,851.1 L1182.6,854.7 L1169.5,854.7 L1160.5,857.7 L1169.5,851.1 L1158.5,845.7 L1150.4,845.7 L1147.4,851.7 L1140.4,854.7 L1142.4,857.7 L1137.4,858.7 L1123.3,860.7 L1122.3,858.7 L1118.3,851.7 L1123.9,842.7 L1121.9,838.6Z" stroke-width="2.2"/>
<path d="M1416.7,807.5 L1388.3,815.0 L1337.5,829.2 L1310.0,839.2 L1280.0,846.0 M1368.0,820.1 L1341.3,827.6 L1311.2,838.6 L1275.0,848.3 L1254.5,851.7 M1264.9,845.1 L1248.9,848.3 L1224.8,854.3 L1200.7,857.7 L1174.1,857.9 M1169.5,855.1 L1136.3,864.4 M1079.1,865.8 L1085.1,862.4 L1088.1,854.7 L1096.2,847.7 L1103.2,847.7 L1111.2,850.3 L1114.2,853.7 L1109.2,860.7 L1100.2,866.8 L1079.1,873.8 L1079.1,865.8 M1427.5,767.0 L1435.8,760.8 L1442.5,764.2 L1445.8,773.3 L1438.3,770.8 L1430.8,770.0 L1427.5,767.0 M1492.5,733.0 L1498.3,729.2 L1512.5,726.3 L1500.0,732.5 L1492.5,733.0 M1290.3,789.2 L1293.3,786.3 L1296.3,786.3 L1296.3,789.2 L1290.3,789.2 M720.5,165.5 L738.0,161.2 L727.5,170.8 L720.5,165.5" stroke-width="2.1"/>
</g>
<path d="M146.2,28.0 L186.2,25.5 L188.0,41.2 L186.5,60.0 L188.0,71.2 L190.5,74.5 L191.0,103.8 L188.0,117.5 L186.5,135.0 L186.5,156.2 L182.5,159.5 L182.0,163.0 L190.0,163.8 L207.5,160.0 L228.8,151.2 L230.0,159.5 L210.0,170.0 L190.0,175.0 L175.0,177.0 L168.8,180.5 L170.0,175.0 L175.0,170.0 L177.0,163.8 L170.0,157.5 L160.0,150.0 L150.0,146.2 L146.2,140.0 L146.2,135.0 L140.0,128.8 L25.0,127.5 L25.0,118.8 L43.8,107.5 L48.8,101.2 L47.5,95.0 L43.8,90.0 L45.0,84.5 L57.5,82.0 L80.0,85.0 L92.5,85.5 L102.5,82.5 L110.0,77.5 L116.2,75.5 L117.5,67.5 L111.2,63.8 L113.8,55.0 L120.0,50.0 L127.5,45.0Z" fill="#efab00"/>
<text x="110" y="122.3" font-size="52" font-weight="700" fill="#fff" textLength="71.5" lengthAdjust="spacingAndGlyphs" stroke="#fff" stroke-width="1.6" stroke-linejoin="round">NYS</text>
<text x="197.3" y="122.3" font-size="52" font-weight="700" fill="#522b72" textLength="165" lengthAdjust="spacingAndGlyphs" stroke="#522b72" stroke-width="2.4" stroke-linejoin="round">Mesonet</text>
<text transform="translate(197.6,143.7) scale(0.66,1)" font-size="17.6" font-weight="700" fill="#522b72" textLength="250.0" lengthAdjust="spacing">UNIVERSITY AT ALBANY</text>
<text transform="translate(599.3,45.7) scale(1,1.066)" font-size="21.95" font-weight="400" fill="#000" text-anchor="middle">Figure created on Sun, 2025-12-28, at 02:00 AM</text>
<text transform="translate(599.2,66.7) scale(1,1.066)" font-size="21.95" font-weight="400" fill="#000" text-anchor="middle">Data Valid: 2025/12/28 06:55:00 UTC</text>
<text transform="translate(353.4,240.1) scale(1,1.052)" font-size="50" font-weight="700" fill="#000" text-anchor="middle">3 Hour Weather Summary</text>
<text transform="translate(355.3,282.2) scale(1,1.05)" font-size="28.5" font-weight="700" fill="#000" text-anchor="middle">3 H Strong Gusts And Wind Vectors Overlaid</text>
<text transform="translate(355.2,312.2) scale(1,1.05)" font-size="28.5" font-weight="700" fill="#000" text-anchor="middle">With Current MRMS Radar</text>
<text transform="translate(27.5,634.4) scale(1,1.0)" font-size="17.66" font-weight="700" fill="#e8746b" text-anchor="start">3 H Temp Change</text>
<text transform="translate(205.8,636.4) scale(1,1.0)" font-size="17.4" font-weight="700" fill="#ffd500" text-anchor="start">3 H Insolation</text>
<text transform="translate(364.9,634.4) scale(1,1.0)" font-size="17.4" font-weight="700" fill="#4d9ef9" text-anchor="start">1 H Pres Change</text>
<text transform="translate(533.6,634.4) scale(1,1.0)" font-size="17.4" font-weight="700" fill="#ababab" text-anchor="start">3 H Precipitation</text>
<text transform="translate(692.7,636.3) scale(1,1.0)" font-size="17.45" font-weight="700" fill="#5cf005" text-anchor="start">Current Dew Point</text>
<text x="18.6" y="674.4" font-size="17.6" font-weight="700" fill="#e8746b">+3 <tspan dy="-8.3" font-size="11.5">o</tspan><tspan dy="8.3">F</tspan></text>
<line x1="84.5" y1="667.5" x2="168.6" y2="667.5" stroke="#e8746b" stroke-width="5.0" stroke-linecap="round"/>
<text x="187.2" y="675.3" font-size="17.6" font-weight="700" fill="#ffe100">4 W/m<tspan dy="-7.6" font-size="10.5">2</tspan><tspan dy="7.6"></tspan></text>
<line x1="262.5" y1="667.5" x2="337.2" y2="667.5" stroke="#ffe100" stroke-width="5.0" stroke-linecap="round"/>
<text x="355.6" y="673.8" font-size="17.6" font-weight="700" fill="#4b9bf6">+1 mb</text>
<line x1="430.7" y1="667.5" x2="505.7" y2="667.5" stroke="#4b9bf6" stroke-width="5.0" stroke-linecap="round"/>
<text x="523.9" y="673.8" font-size="17.6" font-weight="700" fill="#aaaaaa">.10''</text>
<line x1="580.6" y1="667.5" x2="674.5" y2="667.5" stroke="#aaaaaa" stroke-width="5.0" stroke-linecap="round"/>
<text x="692.7" y="674.4" font-size="17.6" font-weight="700" fill="#5cf005">50 <tspan dy="-8.3" font-size="11.5">o</tspan><tspan dy="8.3">F</tspan></text>
<line x1="749.3" y1="667.5" x2="843" y2="667.5" stroke="#5cf005" stroke-width="5.0" stroke-linecap="round"/>
<text x="18.6" y="711.9" font-size="17.6" font-weight="700" fill="#e25b57">+6 <tspan dy="-8.3" font-size="11.5">o</tspan><tspan dy="8.3">F</tspan></text>
<line x1="84.5" y1="705.0" x2="168.6" y2="705.0" stroke="#e25b57" stroke-width="6.55" stroke-linecap="round"/>
<text x="187.2" y="712.8" font-size="17.6" font-weight="700" fill="#ffcb12">6 W/m<tspan dy="-7.6" font-size="10.5">2</tspan><tspan dy="7.6"></tspan></text>
<line x1="262.5" y1="705.0" x2="337.2" y2="705.0" stroke="#ffcb12" stroke-width="6.55" stroke-linecap="round"/>
<text x="355.6" y="711.3" font-size="17.6" font-weight="700" fill="#4c85f5">+2 mb</text>
<line x1="430.7" y1="705.0" x2="505.7" y2="705.0" stroke="#4c85f5" stroke-width="6.55" stroke-linecap="round"/>
<text x="523.9" y="711.3" font-size="17.6" font-weight="700" fill="#999999">.25''</text>
<line x1="580.6" y1="705.0" x2="674.5" y2="705.0" stroke="#999999" stroke-width="6.55" stroke-linecap="round"/>
<text x="692.7" y="711.9" font-size="17.6" font-weight="700" fill="#3de40c">55 <tspan dy="-8.3" font-size="11.5">o</tspan><tspan dy="8.3">F</tspan></text>
<line x1="749.3" y1="705.0" x2="843" y2="705.0" stroke="#3de40c" stroke-width="6.55" stroke-linecap="round"/>
<text x="18.6" y="749.4" font-size="17.6" font-weight="700" fill="#dc4343">+9 <tspan dy="-8.3" font-size="11.5">o</tspan><tspan dy="8.3">F</tspan></text>
<line x1="84.5" y1="742.5" x2="168.6" y2="742.5" stroke="#dc4343" stroke-width="8.1" stroke-linecap="round"/>
<text x="187.2" y="750.3" font-size="17.6" font-weight="700" fill="#ffb000">8 W/m<tspan dy="-7.6" font-size="10.5">2</tspan><tspan dy="7.6"></tspan></text>
<line x1="262.5" y1="742.5" x2="337.2" y2="742.5" stroke="#ffb000" stroke-width="8.1" stroke-linecap="round"/>
<text x="355.6" y="748.8" font-size="17.6" font-weight="700" fill="#5568ef">+3 mb</text>
<line x1="430.7" y1="742.5" x2="505.7" y2="742.5" stroke="#5568ef" stroke-width="8.1" stroke-linecap="round"/>
<text x="523.9" y="748.8" font-size="17.6" font-weight="700" fill="#888888">.50''</text>
<line x1="580.6" y1="742.5" x2="674.5" y2="742.5" stroke="#888888" stroke-width="8.1" stroke-linecap="round"/>
<text x="692.7" y="749.4" font-size="17.6" font-weight="700" fill="#22da10">60 <tspan dy="-8.3" font-size="11.5">o</tspan><tspan dy="8.3">F</tspan></text>
<line x1="749.3" y1="742.5" x2="843" y2="742.5" stroke="#22da10" stroke-width="8.1" stroke-linecap="round"/>
<text x="18.6" y="786.8" font-size="17.6" font-weight="700" fill="#d52b2b">+12 <tspan dy="-8.3" font-size="11.5">o</tspan><tspan dy="8.3">F</tspan></text>
<line x1="84.5" y1="779.9" x2="168.6" y2="779.9" stroke="#d52b2b" stroke-width="9.65" stroke-linecap="round"/>
<text x="187.2" y="787.6999999999999" font-size="17.6" font-weight="700" fill="#ff9100">10 W/m<tspan dy="-7.6" font-size="10.5">2</tspan><tspan dy="7.6"></tspan></text>
<line x1="262.5" y1="779.9" x2="337.2" y2="779.9" stroke="#ff9100" stroke-width="9.65" stroke-linecap="round"/>
<text x="355.6" y="786.1999999999999" font-size="17.6" font-weight="700" fill="#5a4be9">+4 mb</text>
<line x1="430.7" y1="779.9" x2="505.7" y2="779.9" stroke="#5a4be9" stroke-width="9.65" stroke-linecap="round"/>
<text x="523.9" y="786.1999999999999" font-size="17.6" font-weight="700" fill="#6e6e6e">1.00''</text>
<line x1="580.6" y1="779.9" x2="674.5" y2="779.9" stroke="#6e6e6e" stroke-width="9.65" stroke-linecap="round"/>
<text x="692.7" y="786.8" font-size="17.6" font-weight="700" fill="#14d214">65 <tspan dy="-8.3" font-size="11.5">o</tspan><tspan dy="8.3">F</tspan></text>
<line x1="749.3" y1="779.9" x2="843" y2="779.9" stroke="#14d214" stroke-width="9.65" stroke-linecap="round"/>
<text x="18.6" y="824.3" font-size="17.6" font-weight="700" fill="#d7200f">+15 <tspan dy="-8.3" font-size="11.5">o</tspan><tspan dy="8.3">F</tspan></text>
<line x1="84.5" y1="817.4" x2="168.6" y2="817.4" stroke="#d7200f" stroke-width="11.2" stroke-linecap="round"/>
<text x="187.2" y="825.1999999999999" font-size="17.6" font-weight="700" fill="#ff780f">12 W/m<tspan dy="-7.6" font-size="10.5">2</tspan><tspan dy="7.6"></tspan></text>
<line x1="262.5" y1="817.4" x2="337.2" y2="817.4" stroke="#ff780f" stroke-width="11.2" stroke-linecap="round"/>
<text x="355.6" y="823.6999999999999" font-size="17.6" font-weight="700" fill="#5c31e8">+5 mb</text>
<line x1="430.7" y1="817.4" x2="505.7" y2="817.4" stroke="#5c31e8" stroke-width="11.2" stroke-linecap="round"/>
<text x="523.9" y="823.6999999999999" font-size="17.6" font-weight="700" fill="#585858">1.50''</text>
<line x1="580.6" y1="817.4" x2="674.5" y2="817.4" stroke="#585858" stroke-width="11.2" stroke-linecap="round"/>
<text x="692.7" y="824.3" font-size="17.6" font-weight="700" fill="#13cf13">70 <tspan dy="-8.3" font-size="11.5">o</tspan><tspan dy="8.3">F</tspan></text>
<line x1="749.3" y1="817.4" x2="843" y2="817.4" stroke="#13cf13" stroke-width="11.2" stroke-linecap="round"/>
<text x="18.6" y="861.6999999999999" font-size="17.6" font-weight="700" fill="#dc2206">+18 <tspan dy="-8.3" font-size="11.5">o</tspan><tspan dy="8.3">F</tspan></text>
<line x1="84.5" y1="854.8" x2="168.6" y2="854.8" stroke="#dc2206" stroke-width="12.75" stroke-linecap="round"/>
<text x="187.2" y="862.5999999999999" font-size="17.6" font-weight="700" fill="#f65a00">14 W/m<tspan dy="-7.6" font-size="10.5">2</tspan><tspan dy="7.6"></tspan></text>
<line x1="262.5" y1="854.8" x2="337.2" y2="854.8" stroke="#f65a00" stroke-width="12.75" stroke-linecap="round"/>
<text x="355.6" y="861.0999999999999" font-size="17.6" font-weight="700" fill="#5f17e8">+6 mb</text>
<line x1="430.7" y1="854.8" x2="505.7" y2="854.8" stroke="#5f17e8" stroke-width="12.75" stroke-linecap="round"/>
<text x="523.9" y="861.0999999999999" font-size="17.6" font-weight="700" fill="#404040">2.00''</text>
<line x1="580.6" y1="854.8" x2="674.5" y2="854.8" stroke="#404040" stroke-width="12.75" stroke-linecap="round"/>
<text x="692.7" y="861.6999999999999" font-size="17.6" font-weight="700" fill="#12cc12">75 <tspan dy="-8.3" font-size="11.5">o</tspan><tspan dy="8.3">F</tspan></text>
<line x1="749.3" y1="854.8" x2="843" y2="854.8" stroke="#12cc12" stroke-width="12.75" stroke-linecap="round"/>
<text transform="translate(899.3,767.2) scale(1,1.05)" font-size="28.2" font-weight="700" fill="#ff00ff" text-anchor="start">30 Minute</text>
<text transform="translate(921.6,804.6) scale(1,1.05)" font-size="28.2" font-weight="700" fill="#ff00ff" text-anchor="start">MRMS</text>
<text transform="translate(900.3,839.6) scale(1,1.05)" font-size="28.2" font-weight="700" fill="#ff00ff" text-anchor="start">Lightning</text>
<path d="M881.7,786.9 L897.7,802.9 M897.7,786.9 L881.7,802.9" stroke="#ff00ff" stroke-width="5" stroke-linecap="round" fill="none"/>
<rect x="1305" y="100" width="91" height="501.4" fill="url(#cb)"/>
<text transform="translate(1382.5,52.0) scale(1,1.05)" font-size="34.7" font-weight="400" fill="#000" text-anchor="middle">dBZ</text>
<text transform="translate(1441.9,116.0) scale(1,1.06)" font-size="32.6" font-weight="400" fill="#000" text-anchor="middle">70</text>
<text transform="translate(1441.9,187.1) scale(1,1.06)" font-size="32.6" font-weight="400" fill="#000" text-anchor="middle">60</text>
<text transform="translate(1441.9,258.1) scale(1,1.06)" font-size="32.6" font-weight="400" fill="#000" text-anchor="middle">50</text>
<text transform="translate(1441.9,329.2) scale(1,1.06)" font-size="32.6" font-weight="400" fill="#000" text-anchor="middle">40</text>
<text transform="translate(1441.9,400.2) scale(1,1.06)" font-size="32.6" font-weight="400" fill="#000" text-anchor="middle">30</text>
<text transform="translate(1441.9,471.3) scale(1,1.06)" font-size="32.6" font-weight="400" fill="#000" text-anchor="middle">20</text>
<text transform="translate(1441.9,542.3) scale(1,1.06)" font-size="32.6" font-weight="400" fill="#000" text-anchor="middle">10</text>
<text transform="translate(1441.9,613.4) scale(1,1.06)" font-size="32.6" font-weight="400" fill="#000" text-anchor="middle">0</text>
<rect x="1252.1" y="636" width="129.8" height="116.8" fill="#87ceeb"/>
<text transform="translate(1317.3,670.2) scale(1,1.03)" font-size="34.3" font-weight="400" fill="#000" text-anchor="middle">25 mph</text>
<path d="M1296,709.1 L1324.2,709.1 L1322.6,704.1 L1339.2,711.7 L1322.6,719.3 L1324.2,714.3 L1296,714.3Z" fill="#555"/>
</svg></body></html>
